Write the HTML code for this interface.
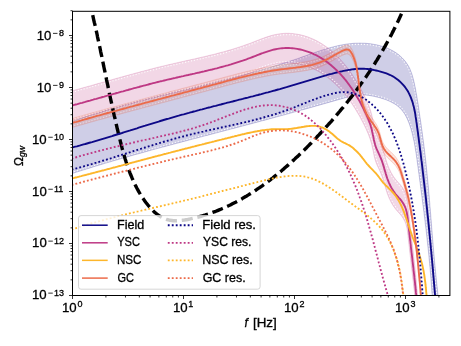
<!DOCTYPE html>
<html><head><meta charset="utf-8"><style>
html,body{margin:0;padding:0;background:#fff;}
svg{display:block;will-change:transform;}
text{stroke:#000;stroke-width:0.3px;}
</style></head><body>
<svg width="461" height="346" viewBox="0 0 461 346">
<defs><clipPath id="ax"><rect x="72.5" y="11.3" width="377.40" height="284.20"/></clipPath></defs>
<rect x="0" y="0" width="461" height="346" fill="#fff"/>
<g clip-path="url(#ax)">
<path d="M60.1 126.0L62.0 125.3L63.9 124.6L65.8 123.8L67.7 123.1L69.6 122.4L71.5 121.7L73.5 121.0L75.4 120.4L77.3 119.7L79.2 119.0L81.1 118.4L83.0 117.7L84.9 117.1L86.9 116.4L88.8 115.8L90.7 115.2L92.6 114.5L94.6 113.9L96.5 113.3L98.4 112.7L100.4 112.1L102.3 111.5L104.2 110.9L106.2 110.3L108.1 109.7L110.0 109.2L112.0 108.6L113.9 108.0L115.9 107.5L117.8 106.9L119.7 106.4L121.7 105.8L123.6 105.3L125.6 104.7L127.5 104.2L129.5 103.7L131.4 103.1L133.4 102.6L135.3 102.1L137.3 101.6L139.2 101.0L141.2 100.5L143.1 100.0L145.1 99.5L147.1 99.0L149.0 98.5L151.0 98.0L152.9 97.5L154.9 97.0L156.9 96.5L158.8 96.0L160.8 95.5L162.7 95.0L164.7 94.5L166.7 94.1L168.6 93.6L170.6 93.1L172.6 92.6L174.5 92.1L176.5 91.6L178.4 91.2L180.4 90.7L182.4 90.2L184.3 89.7L186.3 89.2L188.3 88.8L190.2 88.3L192.2 87.8L194.2 87.3L196.1 86.9L198.1 86.4L200.0 85.9L202.0 85.4L204.0 84.9L205.9 84.5L207.9 84.0L209.9 83.5L211.8 83.0L213.8 82.5L215.7 82.0L217.7 81.5L219.7 81.0L221.6 80.6L223.6 80.1L225.6 79.6L227.5 79.1L229.5 78.6L231.4 78.1L233.4 77.6L235.3 77.0L237.3 76.5L239.2 76.0L241.2 75.5L243.2 75.0L245.1 74.5L247.1 73.9L249.0 73.4L251.0 72.9L252.9 72.3L254.9 71.8L256.8 71.2L258.7 70.7L260.7 70.1L262.6 69.6L264.6 69.0L266.5 68.4L268.4 67.9L270.4 67.3L272.3 66.7L274.3 66.1L276.2 65.5L278.1 64.9L280.1 64.3L282.0 63.7L283.9 63.1L285.8 62.5L287.8 61.9L289.7 61.2L291.6 60.6L293.5 60.0L295.5 59.3L297.4 58.7L299.3 58.0L301.2 57.3L303.1 56.6L305.0 56.0L306.9 55.3L308.8 54.6L310.7 53.9L312.7 53.3L314.6 52.6L316.5 51.9L318.4 51.3L320.3 50.7L322.2 50.0L324.2 49.4L326.1 48.8L328.0 48.2L330.0 47.7L331.9 47.2L333.9 46.7L335.8 46.2L337.8 45.7L339.7 45.3L341.7 44.9L343.7 44.6L345.7 44.2L347.7 43.9L349.7 43.7L351.7 43.5L353.7 43.3L355.7 43.2L357.8 43.2L359.8 43.1L361.9 43.2L363.9 43.2L366.0 43.3L368.0 43.5L370.1 43.7L372.1 44.0L374.1 44.4L376.1 44.7L378.1 45.2L380.0 45.7L381.9 46.2L383.8 46.8L385.7 47.5L387.5 48.2L389.3 49.0L391.1 49.9L392.8 50.8L394.5 51.8L396.1 52.8L397.6 53.9L399.2 55.1L400.6 56.4L402.0 57.7L403.3 59.1L404.6 60.5L405.8 62.0L406.9 63.6L408.0 65.3L409.0 67.0L409.9 68.9L410.7 70.8L411.4 72.7L412.1 74.7L412.7 76.8L413.3 78.9L413.8 81.0L414.3 83.1L414.7 85.2L415.2 87.3L415.6 89.3L415.9 91.4L416.3 93.4L416.7 95.4L417.0 97.4L417.3 99.4L417.6 101.4L418.0 103.3L418.3 105.3L418.6 107.3L418.8 109.2L419.1 111.2L419.4 113.2L419.7 115.1L420.0 117.1L420.3 119.1L420.6 121.1L420.9 123.0L421.2 125.0L421.4 127.0L421.7 129.0L422.0 131.0L422.3 133.0L422.5 135.0L422.8 137.0L423.1 139.0L423.3 141.0L423.6 143.0L423.9 145.0L424.1 147.0L424.4 149.0L424.6 151.0L424.8 153.0L425.1 155.0L425.3 157.1L425.5 159.1L425.8 161.1L426.0 163.1L426.2 165.1L426.4 167.1L426.6 169.1L426.8 171.1L427.0 173.1L427.2 175.2L427.4 177.2L427.6 179.2L427.8 181.2L428.0 183.2L428.2 185.2L428.4 187.2L428.6 189.3L428.7 191.3L428.9 193.3L429.1 195.3L429.3 197.3L429.4 199.3L429.6 201.3L429.8 203.4L429.9 205.4L430.1 207.4L430.3 209.4L430.4 211.4L430.6 213.4L430.8 215.5L430.9 217.5L431.1 219.5L431.3 221.5L431.4 223.5L431.6 225.5L431.7 227.5L431.9 229.6L432.1 231.6L432.2 233.6L432.4 235.6L432.6 237.6L432.7 239.6L432.9 241.7L433.1 243.7L433.2 245.7L433.4 247.7L433.6 249.7L433.7 251.7L433.9 253.7L434.1 255.8L434.3 257.8L434.5 259.8L434.6 261.8L434.8 263.8L435.0 265.8L435.2 267.8L435.4 269.8L435.6 271.9L435.8 273.9L436.0 275.9L436.2 277.9L436.4 279.9L436.6 281.9L436.8 283.9L437.0 285.9L437.3 287.9L437.5 289.9L437.7 292.0L437.9 294.0L438.2 296.0L438.4 298.0L438.7 300.0L432.4 300.0L432.3 298.2L432.2 296.3L432.1 294.5L431.9 292.7L431.8 290.8L431.7 289.0L431.6 287.1L431.4 285.3L431.3 283.5L431.1 281.6L431.0 279.8L430.9 277.9L430.7 276.1L430.6 274.3L430.4 272.4L430.2 270.6L430.1 268.8L429.9 266.9L429.7 265.1L429.6 263.3L429.4 261.4L429.2 259.6L429.0 257.8L428.9 255.9L428.7 254.1L428.5 252.3L428.3 250.4L428.1 248.6L427.9 246.8L427.7 245.0L427.5 243.1L427.3 241.3L427.1 239.5L426.9 237.6L426.7 235.8L426.5 234.0L426.3 232.2L426.1 230.3L425.9 228.5L425.7 226.7L425.4 224.8L425.2 223.0L425.0 221.2L424.8 219.4L424.6 217.5L424.3 215.7L424.1 213.9L423.9 212.1L423.6 210.2L423.4 208.4L423.2 206.6L422.9 204.8L422.7 202.9L422.5 201.1L422.2 199.3L422.0 197.5L421.8 195.6L421.5 193.8L421.3 192.0L421.0 190.2L420.8 188.3L420.6 186.5L420.3 184.7L420.1 182.9L419.8 181.0L419.6 179.2L419.4 177.4L419.1 175.5L418.9 173.7L418.6 171.9L418.4 170.1L418.1 168.2L417.9 166.4L417.6 164.6L417.4 162.8L417.1 160.9L416.9 159.1L416.6 157.3L416.4 155.5L416.1 153.6L415.8 151.8L415.5 150.0L415.2 148.2L414.9 146.3L414.6 144.5L414.3 142.7L413.9 140.9L413.5 139.1L413.1 137.3L412.7 135.5L412.3 133.7L411.8 131.9L411.3 130.1L410.8 128.3L410.2 126.6L409.6 124.8L409.0 123.1L408.3 121.4L407.6 119.7L406.8 118.0L406.0 116.4L405.1 114.8L404.2 113.3L403.2 111.9L402.1 110.5L400.9 109.1L399.7 107.9L398.4 106.7L397.0 105.6L395.5 104.5L393.9 103.6L392.3 102.7L390.7 101.8L389.0 101.0L387.2 100.3L385.5 99.6L383.7 99.0L381.8 98.4L380.0 97.8L378.1 97.3L376.2 96.9L374.4 96.4L372.5 96.1L370.6 95.7L368.8 95.4L367.0 95.2L365.1 95.0L363.3 94.9L361.5 95.0L359.7 95.0L357.9 95.2L356.1 95.4L354.3 95.7L352.5 96.0L350.8 96.4L349.0 96.8L347.2 97.2L345.5 97.7L343.7 98.2L342.0 98.7L340.2 99.2L338.5 99.7L336.7 100.2L334.9 100.7L333.2 101.2L331.4 101.7L329.7 102.2L327.9 102.7L326.1 103.2L324.4 103.7L322.6 104.2L320.8 104.7L319.1 105.2L317.3 105.7L315.5 106.2L313.8 106.7L312.0 107.2L310.2 107.7L308.4 108.2L306.7 108.7L304.9 109.2L303.1 109.7L301.3 110.1L299.6 110.6L297.8 111.1L296.0 111.6L294.2 112.1L292.5 112.6L290.7 113.1L288.9 113.6L287.1 114.1L285.3 114.6L283.6 115.1L281.8 115.5L280.0 116.0L278.2 116.5L276.4 117.0L274.7 117.5L272.9 118.0L271.1 118.4L269.3 118.9L267.5 119.4L265.8 119.9L264.0 120.4L262.2 120.8L260.4 121.3L258.6 121.8L256.9 122.3L255.1 122.7L253.3 123.2L251.5 123.7L249.7 124.2L248.0 124.6L246.2 125.1L244.4 125.6L242.6 126.0L240.8 126.5L239.1 127.0L237.3 127.4L235.5 127.9L233.7 128.4L231.9 128.8L230.1 129.3L228.4 129.8L226.6 130.2L224.8 130.7L223.0 131.2L221.2 131.6L219.5 132.1L217.7 132.6L215.9 133.0L214.1 133.5L212.3 134.0L210.6 134.4L208.8 134.9L207.0 135.4L205.2 135.8L203.4 136.3L201.7 136.8L199.9 137.2L198.1 137.7L196.3 138.2L194.5 138.6L192.8 139.1L191.0 139.6L189.2 140.0L187.4 140.5L185.7 141.0L183.9 141.4L182.1 141.9L180.3 142.4L178.5 142.9L176.8 143.3L175.0 143.8L173.2 144.3L171.4 144.8L169.7 145.2L167.9 145.7L166.1 146.2L164.3 146.7L162.5 147.1L160.8 147.6L159.0 148.1L157.2 148.6L155.4 149.1L153.7 149.5L151.9 150.0L150.1 150.5L148.3 151.0L146.6 151.5L144.8 152.0L143.0 152.5L141.3 153.0L139.5 153.5L137.7 154.0L135.9 154.4L134.2 154.9L132.4 155.4L130.6 155.9L128.9 156.4L127.1 157.0L125.3 157.5L123.5 158.0L121.8 158.5L120.0 159.0L118.2 159.5L116.5 160.0L114.7 160.5L112.9 161.0L111.2 161.6L109.4 162.1L107.6 162.6L105.9 163.1L104.1 163.6L102.3 164.2L100.6 164.7L98.8 165.2L97.0 165.8L95.3 166.3L93.5 166.8L91.8 167.4L90.0 167.9L88.2 168.5L86.5 169.0L84.7 169.6L83.0 170.1L81.2 170.7L79.4 171.2L77.7 171.8L75.9 172.3L74.2 172.9L72.4 173.5L70.6 174.0L68.9 174.6L67.1 175.2L65.4 175.7L63.6 176.3L61.9 176.9L60.1 177.5 Z" fill="#0d0887" fill-opacity="0.2" stroke="#0d0887" stroke-opacity="0.2" stroke-width="1"/>
<path d="M60.6 127.1L62.5 126.4L64.4 125.7L66.3 125.0L68.2 124.3L70.1 123.6L72.0 122.9L73.9 122.2L75.8 121.5L77.7 120.8L79.6 120.2L81.5 119.5L83.4 118.8L85.3 118.2L87.2 117.6L89.2 116.9L91.1 116.3L93.0 115.7L94.9 115.1L96.9 114.4L98.8 113.8L100.7 113.2L102.6 112.6L104.6 112.1L106.5 111.5L108.4 110.9L110.4 110.3L112.3 109.7L114.2 109.2L116.2 108.6L118.1 108.1L120.1 107.5L122.0 107.0L124.0 106.4L125.9 105.9L127.8 105.3L129.8 104.8L131.7 104.3L133.7 103.8L135.6 103.2L137.6 102.7L139.5 102.2L141.5 101.7L143.5 101.2L145.4 100.7L147.4 100.2L149.3 99.7L151.3 99.2L153.2 98.7L155.2 98.2L157.1 97.7L159.1 97.2L161.1 96.7L163.0 96.2L165.0 95.7L167.0 95.2L168.9 94.7L170.9 94.3L172.8 93.8L174.8 93.3L176.8 92.8L178.7 92.3L180.7 91.8L182.7 91.4L184.6 90.9L186.6 90.4L188.5 89.9L190.5 89.5L192.5 89.0L194.4 88.5L196.4 88.0L198.4 87.5L200.3 87.1L202.3 86.6L204.3 86.1L206.2 85.6L208.2 85.1L210.2 84.7L212.1 84.2L214.1 83.7L216.0 83.2L218.0 82.7L220.0 82.2L221.9 81.7L223.9 81.2L225.8 80.7L227.8 80.2L229.8 79.7L231.7 79.2L233.7 78.7L235.6 78.2L237.6 77.7L239.6 77.2L241.5 76.7L243.5 76.1L245.4 75.6L247.4 75.1L249.3 74.6L251.3 74.0L253.2 73.5L255.2 72.9L257.1 72.4L259.1 71.8L261.0 71.3L263.0 70.7L264.9 70.2L266.8 69.6L268.8 69.0L270.7 68.4L272.7 67.9L274.6 67.3L276.5 66.7L278.5 66.1L280.4 65.5L282.3 64.9L284.3 64.3L286.2 63.6L288.1 63.0L290.1 62.4L292.0 61.7L293.9 61.1L295.8 60.4L297.8 59.8L299.7 59.1L301.6 58.5L303.5 57.8L305.4 57.1L307.3 56.4L309.2 55.7L311.1 55.1L313.1 54.4L315.0 53.7L316.9 53.1L318.8 52.4L320.7 51.8L322.6 51.2L324.5 50.6L326.4 50.0L328.4 49.4L330.3 48.9L332.2 48.3L334.1 47.8L336.1 47.3L338.0 46.9L340.0 46.5L341.9 46.1L343.9 45.7L345.8 45.4L347.8 45.1L349.8 44.9L351.8 44.7L353.8 44.5L355.8 44.4L357.8 44.4L359.8 44.3L361.9 44.4L363.9 44.4L365.9 44.5L367.9 44.7L369.9 44.9L371.9 45.2L373.9 45.5L375.8 45.9L377.8 46.3L379.7 46.8L381.6 47.4L383.4 48.0L385.3 48.6L387.1 49.3L388.8 50.1L390.5 51.0L392.2 51.8L393.8 52.8L395.4 53.8L396.9 54.9L398.4 56.0L399.8 57.3L401.2 58.5L402.5 59.9L403.7 61.3L404.8 62.8L405.9 64.3L407.0 65.9L407.9 67.6L408.8 69.4L409.6 71.2L410.3 73.1L411.0 75.1L411.6 77.1L412.1 79.2L412.6 81.2L413.1 83.3L413.6 85.4L414.0 87.5L414.4 89.6L414.8 91.6L415.1 93.6L415.5 95.6L415.8 97.6L416.1 99.6L416.5 101.6L416.8 103.5L417.1 105.5L417.4 107.4L417.7 109.4L418.0 111.4L418.2 113.3L418.5 115.3L418.8 117.3L419.1 119.3L419.4 121.2L419.7 123.2L420.0 125.2L420.3 127.2L420.5 129.2L420.8 131.2L421.1 133.2L421.4 135.2L421.6 137.2L421.9 139.2L422.2 141.2L422.4 143.2L422.7 145.2L422.9 147.2L423.2 149.2L423.4 151.2L423.7 153.2L423.9 155.2L424.1 157.2L424.3 159.2L424.6 161.2L424.8 163.2L425.0 165.2L425.2 167.2L425.4 169.2L425.6 171.3L425.8 173.3L426.0 175.3L426.2 177.3L426.4 179.3L426.6 181.3L426.8 183.3L427.0 185.3L427.2 187.3L427.4 189.4L427.5 191.4L427.7 193.4L427.9 195.4L428.1 197.4L428.2 199.4L428.4 201.4L428.6 203.5L428.7 205.5L428.9 207.5L429.1 209.5L429.2 211.5L429.4 213.5L429.6 215.5L429.7 217.6L429.9 219.6L430.1 221.6L430.2 223.6L430.4 225.6L430.5 227.6L430.7 229.7L430.9 231.7L431.0 233.7L431.2 235.7L431.4 237.7L431.5 239.7L431.7 241.8L431.9 243.8L432.0 245.8L432.2 247.8L432.4 249.8L432.5 251.8L432.7 253.8L432.9 255.9L433.1 257.9L433.3 259.9L433.4 261.9L433.6 263.9L433.8 265.9L434.0 267.9L434.2 270.0L434.4 272.0L434.6 274.0L434.8 276.0L435.0 278.0L435.2 280.0L435.4 282.0L435.6 284.0L435.8 286.1L436.1 288.1L436.3 290.1L436.5 292.1L436.8 294.1L437.0 296.1L437.2 298.1L437.5 300.1" fill="none" stroke="#fff" stroke-opacity="0.9" stroke-width="1.1" stroke-dasharray="1.2 1.8"/>
<path d="M59.7 176.4L61.5 175.8L63.3 175.2L65.0 174.6L66.8 174.0L68.5 173.5L70.3 172.9L72.0 172.3L73.8 171.8L75.6 171.2L77.3 170.6L79.1 170.1L80.8 169.5L82.6 169.0L84.4 168.4L86.1 167.9L87.9 167.3L89.6 166.8L91.4 166.2L93.2 165.7L94.9 165.2L96.7 164.6L98.5 164.1L100.2 163.5L102.0 163.0L103.8 162.5L105.5 162.0L107.3 161.4L109.1 160.9L110.8 160.4L112.6 159.9L114.4 159.4L116.1 158.8L117.9 158.3L119.7 157.8L121.4 157.3L123.2 156.8L125.0 156.3L126.8 155.8L128.5 155.3L130.3 154.8L132.1 154.3L133.8 153.8L135.6 153.3L137.4 152.8L139.2 152.3L140.9 151.8L142.7 151.3L144.5 150.8L146.3 150.3L148.0 149.8L149.8 149.4L151.6 148.9L153.4 148.4L155.1 147.9L156.9 147.4L158.7 146.9L160.5 146.5L162.2 146.0L164.0 145.5L165.8 145.0L167.6 144.5L169.3 144.1L171.1 143.6L172.9 143.1L174.7 142.6L176.5 142.2L178.2 141.7L180.0 141.2L181.8 140.8L183.6 140.3L185.3 139.8L187.1 139.3L188.9 138.9L190.7 138.4L192.5 137.9L194.2 137.5L196.0 137.0L197.8 136.5L199.6 136.1L201.4 135.6L203.1 135.1L204.9 134.7L206.7 134.2L208.5 133.7L210.3 133.3L212.0 132.8L213.8 132.3L215.6 131.9L217.4 131.4L219.2 130.9L220.9 130.5L222.7 130.0L224.5 129.5L226.3 129.1L228.1 128.6L229.8 128.1L231.6 127.7L233.4 127.2L235.2 126.7L237.0 126.3L238.7 125.8L240.5 125.3L242.3 124.9L244.1 124.4L245.9 123.9L247.7 123.5L249.4 123.0L251.2 122.5L253.0 122.0L254.8 121.6L256.6 121.1L258.3 120.6L260.1 120.2L261.9 119.7L263.7 119.2L265.5 118.7L267.2 118.2L269.0 117.8L270.8 117.3L272.6 116.8L274.4 116.3L276.1 115.8L277.9 115.4L279.7 114.9L281.5 114.4L283.3 113.9L285.0 113.4L286.8 112.9L288.6 112.4L290.4 111.9L292.1 111.5L293.9 111.0L295.7 110.5L297.5 110.0L299.2 109.5L301.0 109.0L302.8 108.5L304.6 108.0L306.3 107.5L308.1 107.0L309.9 106.5L311.7 106.0L313.4 105.5L315.2 105.0L317.0 104.5L318.7 104.0L320.5 103.5L322.3 103.0L324.0 102.5L325.8 102.0L327.6 101.5L329.3 101.0L331.1 100.5L332.8 100.0L334.6 99.5L336.4 99.0L338.1 98.5L339.9 98.0L341.6 97.5L343.4 97.0L345.2 96.5L346.9 96.1L348.7 95.6L350.5 95.2L352.3 94.8L354.1 94.5L355.9 94.2L357.8 94.0L359.6 93.8L361.4 93.8L363.3 93.8L365.2 93.8L367.1 94.0L369.0 94.2L370.9 94.5L372.7 94.9L374.6 95.3L376.5 95.7L378.4 96.2L380.3 96.7L382.2 97.2L384.0 97.8L385.9 98.5L387.7 99.2L389.5 99.9L391.2 100.7L392.9 101.6L394.6 102.5L396.2 103.5L397.7 104.6L399.1 105.8L400.5 107.0L401.8 108.3L403.0 109.7L404.1 111.2L405.2 112.7L406.2 114.2L407.1 115.8L407.9 117.5L408.7 119.2L409.4 120.9L410.1 122.7L410.8 124.4L411.4 126.2L411.9 128.0L412.4 129.8L412.9 131.6L413.4 133.4L413.9 135.2L414.3 137.0L414.7 138.9L415.1 140.7L415.4 142.5L415.8 144.3L416.1 146.1L416.4 148.0L416.7 149.8L417.0 151.6L417.3 153.5L417.6 155.3L417.8 157.1L418.1 158.9L418.3 160.8L418.6 162.6L418.8 164.4L419.1 166.3L419.3 168.1L419.6 169.9L419.8 171.7L420.1 173.6L420.3 175.4L420.5 177.2L420.8 179.0L421.0 180.9L421.3 182.7L421.5 184.5L421.8 186.3L422.0 188.2L422.2 190.0L422.5 191.8L422.7 193.6L423.0 195.5L423.2 197.3L423.4 199.1L423.7 201.0L423.9 202.8L424.1 204.6L424.4 206.4L424.6 208.3L424.8 210.1L425.1 211.9L425.3 213.7L425.5 215.6L425.7 217.4L426.0 219.2L426.2 221.0L426.4 222.9L426.6 224.7L426.8 226.5L427.1 228.4L427.3 230.2L427.5 232.0L427.7 233.8L427.9 235.7L428.1 237.5L428.3 239.3L428.5 241.2L428.7 243.0L428.9 244.8L429.1 246.7L429.3 248.5L429.5 250.3L429.7 252.1L429.9 254.0L430.1 255.8L430.2 257.6L430.4 259.5L430.6 261.3L430.8 263.1L430.9 265.0L431.1 266.8L431.3 268.7L431.4 270.5L431.6 272.3L431.8 274.2L431.9 276.0L432.1 277.8L432.2 279.7L432.3 281.5L432.5 283.4L432.6 285.2L432.8 287.0L432.9 288.9L433.0 290.7L433.1 292.6L433.3 294.4L433.4 296.3L433.5 298.1L433.6 300.0" fill="none" stroke="#fff" stroke-opacity="0.9" stroke-width="1.1" stroke-dasharray="1.2 1.8"/>
<path d="M60.0 94.0L61.6 93.6L63.2 93.2L64.8 92.8L66.3 92.4L67.9 91.9L69.5 91.5L71.1 91.1L72.7 90.7L74.2 90.2L75.8 89.8L77.4 89.4L79.0 88.9L80.5 88.5L82.1 88.1L83.7 87.6L85.3 87.2L86.9 86.7L88.4 86.3L90.0 85.9L91.6 85.4L93.2 85.0L94.7 84.5L96.3 84.1L97.9 83.6L99.5 83.2L101.0 82.8L102.6 82.3L104.2 81.9L105.8 81.4L107.3 81.0L108.9 80.5L110.5 80.1L112.0 79.7L113.6 79.2L115.2 78.8L116.8 78.3L118.3 77.9L119.9 77.4L121.5 77.0L123.1 76.6L124.7 76.1L126.2 75.7L127.8 75.3L129.4 74.8L131.0 74.4L132.5 74.0L134.1 73.5L135.7 73.1L137.3 72.7L138.9 72.3L140.4 71.8L142.0 71.4L143.6 71.0L145.2 70.6L146.8 70.2L148.3 69.8L149.9 69.3L151.5 68.9L153.1 68.5L154.7 68.1L156.3 67.7L157.8 67.3L159.4 66.9L161.0 66.5L162.6 66.2L164.2 65.8L165.8 65.4L167.4 65.0L169.0 64.6L170.6 64.3L172.2 63.9L173.8 63.5L175.4 63.2L177.0 62.8L178.6 62.4L180.1 62.1L181.7 61.7L183.3 61.4L184.9 61.0L186.5 60.6L188.1 60.3L189.7 59.9L191.3 59.6L192.9 59.2L194.5 58.9L196.1 58.5L197.7 58.1L199.3 57.8L200.9 57.4L202.5 57.0L204.1 56.7L205.7 56.3L207.3 55.9L208.9 55.5L210.5 55.1L212.0 54.8L213.6 54.4L215.2 54.0L216.8 53.6L218.4 53.1L220.0 52.7L221.5 52.3L223.1 51.9L224.7 51.5L226.3 51.0L227.8 50.6L229.4 50.1L231.0 49.7L232.5 49.2L234.1 48.7L235.7 48.2L237.2 47.7L238.8 47.2L240.3 46.7L241.9 46.2L243.4 45.7L245.0 45.1L246.5 44.6L248.0 44.0L249.6 43.5L251.1 42.9L252.6 42.3L254.2 41.7L255.7 41.1L257.2 40.5L258.7 39.9L260.3 39.3L261.8 38.7L263.3 38.2L264.9 37.6L266.4 37.1L267.9 36.6L269.5 36.1L271.1 35.6L272.6 35.2L274.2 34.8L275.8 34.5L277.4 34.2L279.0 33.9L280.6 33.7L282.2 33.5L283.9 33.4L285.5 33.3L287.2 33.3L288.9 33.3L290.5 33.4L292.2 33.5L293.9 33.7L295.5 33.9L297.2 34.2L298.8 34.5L300.4 34.8L302.0 35.2L303.6 35.6L305.2 36.1L306.7 36.6L308.3 37.1L309.8 37.7L311.3 38.3L312.8 38.9L314.2 39.6L315.7 40.3L317.1 41.0L318.5 41.8L319.9 42.6L321.3 43.4L322.7 44.3L324.0 45.2L325.3 46.1L326.7 47.1L328.0 48.0L329.2 49.0L330.5 50.0L331.7 51.1L333.0 52.2L334.2 53.3L335.4 54.4L336.6 55.5L337.7 56.7L338.9 57.8L340.0 59.0L341.1 60.2L342.2 61.5L343.3 62.7L344.3 64.0L345.4 65.2L346.4 66.5L347.4 67.8L348.4 69.1L349.4 70.5L350.3 71.8L351.3 73.1L352.2 74.5L353.1 75.9L354.0 77.3L354.9 78.6L355.7 80.0L356.6 81.5L357.4 82.9L358.3 84.3L359.1 85.7L359.9 87.1L360.7 88.6L361.4 90.0L362.2 91.5L362.9 92.9L363.7 94.4L364.4 95.8L365.1 97.3L365.8 98.7L366.5 100.2L367.1 101.7L367.8 103.2L368.4 104.7L369.0 106.2L369.5 107.7L370.1 109.2L370.6 110.7L371.0 112.3L371.5 113.9L371.9 115.5L372.2 117.1L372.6 118.7L372.9 120.3L373.3 121.9L373.6 123.5L373.9 125.2L374.3 126.8L374.7 128.4L375.1 129.9L375.6 131.5L376.1 133.0L376.7 134.5L377.4 136.0L378.1 137.5L378.8 139.0L379.5 140.4L380.1 141.9L380.8 143.4L381.4 144.9L382.0 146.5L382.5 148.0L383.0 149.6L383.5 151.2L384.0 152.8L384.4 154.4L384.9 156.0L385.4 157.5L385.8 159.1L386.3 160.7L386.8 162.3L387.3 163.8L387.9 165.4L388.5 166.9L389.1 168.4L389.8 169.8L390.5 171.3L391.2 172.7L392.0 174.1L392.8 175.4L393.6 176.7L394.6 178.0L395.5 179.3L396.5 180.5L397.6 181.7L398.6 182.9L399.7 184.0L400.7 185.2L401.7 186.5L402.6 187.8L403.4 189.1L404.2 190.5L404.9 191.9L405.5 193.3L406.0 194.8L406.4 196.4L406.8 197.9L407.1 199.6L407.4 201.2L407.6 202.8L407.8 204.5L408.0 206.1L408.1 207.8L408.3 209.5L408.5 211.1L408.7 212.8L408.9 214.4L409.1 216.1L409.3 217.7L409.4 219.3L409.6 221.0L409.8 222.6L410.0 224.3L410.2 225.9L410.4 227.5L410.6 229.1L410.8 230.8L410.9 232.4L411.1 234.0L411.3 235.7L411.5 237.3L411.7 238.9L411.9 240.5L412.1 242.1L412.3 243.8L412.4 245.4L412.6 247.0L412.8 248.6L413.0 250.2L413.2 251.9L413.4 253.5L413.5 255.1L413.7 256.7L413.9 258.3L414.1 259.9L414.3 261.5L414.4 263.2L414.6 264.8L414.8 266.4L415.0 268.0L415.1 269.6L415.3 271.2L415.5 272.9L415.6 274.5L415.8 276.1L415.9 277.7L416.1 279.3L416.3 280.9L416.4 282.6L416.6 284.2L416.7 285.8L416.9 287.4L417.0 289.1L417.2 290.7L417.3 292.3L417.4 294.0L417.6 295.6L417.7 297.2L417.8 298.9L418.0 300.5L418.1 302.1L418.2 303.8L418.3 305.4L418.4 307.1L418.5 308.7L418.7 310.4L418.8 312.0L418.9 313.7L419.0 315.3L419.0 345.0L418.9 343.4L418.8 341.7L418.7 340.1L418.5 338.4L418.4 336.8L418.3 335.1L418.2 333.5L418.1 331.8L418.0 330.2L417.8 328.6L417.7 326.9L417.6 325.3L417.4 323.7L417.3 322.0L417.2 320.4L417.0 318.8L416.9 317.1L416.7 315.5L416.6 313.9L416.4 312.3L416.3 310.6L416.1 309.0L415.9 307.4L415.8 305.8L415.6 304.2L415.5 302.6L415.3 300.9L415.1 299.3L415.0 297.7L414.8 296.1L414.6 294.5L414.4 292.9L414.3 291.2L414.1 289.6L413.9 288.0L413.7 286.4L413.5 284.8L413.4 283.2L413.2 281.6L413.0 279.9L412.8 278.3L412.6 276.7L412.4 275.1L412.3 273.5L412.1 271.8L411.9 270.2L411.7 268.6L411.5 267.0L411.3 265.4L411.1 263.7L410.9 262.1L410.8 260.5L410.6 258.8L410.4 257.2L410.2 255.6L410.0 254.0L409.8 252.3L409.6 250.7L409.4 249.0L409.3 247.4L409.1 245.8L408.9 244.1L408.7 242.5L408.5 240.8L408.3 239.2L408.1 237.5L408.0 235.8L407.8 234.2L407.6 232.5L407.4 230.9L407.1 229.3L406.8 227.6L406.4 226.1L406.0 224.5L405.5 223.0L404.9 221.6L404.2 220.2L403.4 218.8L402.6 217.5L401.7 216.2L400.7 214.9L399.7 213.7L398.6 212.6L397.6 211.4L396.5 210.2L395.5 209.0L394.6 207.7L393.6 206.4L392.8 205.1L392.0 203.8L391.2 202.4L390.5 201.0L389.8 199.5L389.1 198.1L388.5 196.6L387.9 195.1L387.3 193.5L386.8 192.0L386.3 190.4L385.8 188.8L385.4 187.2L384.9 185.7L384.4 184.1L384.0 182.5L383.5 180.9L383.0 179.3L382.5 177.7L382.0 176.2L381.4 174.6L380.8 173.1L380.1 171.6L379.5 170.1L378.8 168.7L378.1 167.2L377.4 165.7L376.7 164.2L376.1 162.7L375.6 161.2L375.1 159.6L374.7 158.1L374.3 156.5L373.9 154.9L373.6 153.2L373.3 151.6L372.9 150.0L372.6 148.4L372.2 146.8L371.9 145.2L371.5 143.6L371.0 142.0L370.6 140.4L370.1 138.9L369.5 137.4L369.0 135.9L368.4 134.4L367.8 132.9L367.1 131.4L366.5 129.9L365.8 128.4L365.1 127.0L364.4 125.5L363.7 124.1L362.9 122.6L362.2 121.2L361.4 119.7L360.7 118.3L359.9 116.8L359.1 115.4L358.3 114.0L357.4 112.6L356.6 111.2L355.7 109.7L354.9 108.3L354.0 107.0L353.1 105.6L352.2 104.2L351.3 102.8L350.3 101.5L349.4 100.2L348.4 98.8L347.4 97.5L346.4 96.2L345.4 94.9L344.3 93.7L343.3 92.4L342.2 91.2L341.1 89.9L340.0 88.7L338.9 87.5L337.7 86.4L336.6 85.2L335.4 84.1L334.2 83.0L333.0 81.9L331.7 80.8L330.5 79.7L329.2 78.7L328.0 77.7L326.7 76.8L325.3 75.8L324.0 74.9L322.7 74.0L321.3 73.1L319.9 72.3L318.5 71.5L317.1 70.7L315.7 70.0L314.2 69.3L312.8 68.6L311.3 68.0L309.8 67.4L308.3 66.8L306.7 66.3L305.2 65.8L303.6 65.3L302.0 64.9L300.4 64.5L298.8 64.2L297.2 63.9L295.5 63.6L293.9 63.4L292.2 63.2L290.5 63.1L288.9 63.0L287.2 63.0L285.5 63.0L283.9 63.1L282.2 63.2L280.6 63.4L279.0 63.6L277.4 63.9L275.8 64.2L274.2 64.5L272.6 64.9L271.1 65.3L269.5 65.8L267.9 66.3L266.4 66.8L264.9 67.3L263.3 67.9L261.8 68.4L260.3 69.0L258.7 69.6L257.2 70.2L255.7 70.8L254.2 71.4L252.6 72.0L251.1 72.6L249.6 73.2L248.0 73.7L246.5 74.3L245.0 74.8L243.4 75.4L241.9 75.9L240.3 76.4L238.8 76.9L237.2 77.4L235.7 77.9L234.1 78.4L232.5 78.9L231.0 79.4L229.4 79.8L227.8 80.3L226.3 80.7L224.7 81.2L223.1 81.6L221.5 82.0L220.0 82.4L218.4 82.8L216.8 83.3L215.2 83.7L213.6 84.1L212.0 84.5L210.5 84.8L208.9 85.2L207.3 85.6L205.7 86.0L204.1 86.4L202.5 86.7L200.9 87.1L199.3 87.5L197.7 87.8L196.1 88.2L194.5 88.6L192.9 88.9L191.3 89.3L189.7 89.6L188.1 90.0L186.5 90.3L184.9 90.7L183.3 91.1L181.7 91.4L180.1 91.8L178.6 92.1L177.0 92.5L175.4 92.9L173.8 93.2L172.2 93.6L170.6 94.0L169.0 94.3L167.4 94.7L165.8 95.1L164.2 95.5L162.6 95.9L161.0 96.2L159.4 96.6L157.8 97.0L156.3 97.4L154.7 97.8L153.1 98.2L151.5 98.6L149.9 99.0L148.3 99.5L146.8 99.9L145.2 100.3L143.6 100.7L142.0 101.1L140.4 101.5L138.9 102.0L137.3 102.4L135.7 102.8L134.1 103.2L132.5 103.7L131.0 104.1L129.4 104.5L127.8 105.0L126.2 105.4L124.7 105.8L123.1 106.3L121.5 106.7L119.9 107.1L118.3 107.6L116.8 108.0L115.2 108.5L113.6 108.9L112.0 109.4L110.5 109.8L108.9 110.2L107.3 110.7L105.8 111.1L104.2 111.6L102.6 112.0L101.0 112.5L99.5 112.9L97.9 113.3L96.3 113.8L94.7 114.2L93.2 114.7L91.6 115.1L90.0 115.6L88.4 116.0L86.9 116.4L85.3 116.9L83.7 117.3L82.1 117.8L80.5 118.2L79.0 118.6L77.4 119.1L75.8 119.5L74.2 119.9L72.7 120.4L71.1 120.8L69.5 121.2L67.9 121.6L66.3 122.1L64.8 122.5L63.2 122.9L61.6 123.3L60.0 123.7 Z" fill="#be3884" fill-opacity="0.2" stroke="#be3884" stroke-opacity="0.2" stroke-width="1"/>
<path d="M60.4 95.4L61.9 95.0L63.5 94.6L65.1 94.1L66.7 93.7L68.3 93.3L69.9 92.9L71.4 92.4L73.0 92.0L74.6 91.6L76.2 91.2L77.8 90.7L79.3 90.3L80.9 89.8L82.5 89.4L84.1 89.0L85.7 88.5L87.2 88.1L88.8 87.7L90.4 87.2L92.0 86.8L93.5 86.3L95.1 85.9L96.7 85.4L98.3 85.0L99.8 84.6L101.4 84.1L103.0 83.7L104.6 83.2L106.1 82.8L107.7 82.3L109.3 81.9L110.9 81.4L112.4 81.0L114.0 80.6L115.6 80.1L117.2 79.7L118.7 79.2L120.3 78.8L121.9 78.4L123.4 77.9L125.0 77.5L126.6 77.0L128.2 76.6L129.8 76.2L131.3 75.7L132.9 75.3L134.5 74.9L136.1 74.5L137.6 74.0L139.2 73.6L140.8 73.2L142.4 72.8L143.9 72.3L145.5 71.9L147.1 71.5L148.7 71.1L150.3 70.7L151.9 70.3L153.4 69.9L155.0 69.5L156.6 69.1L158.2 68.7L159.8 68.3L161.4 67.9L162.9 67.5L164.5 67.1L166.1 66.7L167.7 66.4L169.3 66.0L170.9 65.6L172.5 65.3L174.1 64.9L175.7 64.5L177.3 64.2L178.9 63.8L180.5 63.4L182.1 63.1L183.6 62.7L185.2 62.4L186.8 62.0L188.4 61.7L190.0 61.3L191.6 60.9L193.2 60.6L194.8 60.2L196.4 59.9L198.0 59.5L199.6 59.1L201.2 58.8L202.8 58.4L204.4 58.0L206.0 57.6L207.6 57.3L209.2 56.9L210.8 56.5L212.4 56.1L214.0 55.7L215.6 55.3L217.2 54.9L218.7 54.5L220.3 54.1L221.9 53.7L223.5 53.2L225.1 52.8L226.6 52.4L228.2 51.9L229.8 51.5L231.4 51.0L232.9 50.5L234.5 50.1L236.1 49.6L237.6 49.1L239.2 48.6L240.8 48.1L242.3 47.5L243.9 47.0L245.4 46.5L247.0 45.9L248.5 45.3L250.1 44.8L251.6 44.2L253.1 43.6L254.7 43.0L256.2 42.4L257.7 41.8L259.2 41.2L260.8 40.6L262.3 40.0L263.8 39.5L265.3 38.9L266.8 38.4L268.4 37.9L269.9 37.4L271.4 37.0L273.0 36.6L274.5 36.2L276.1 35.8L277.6 35.5L279.2 35.3L280.8 35.1L282.4 34.9L284.0 34.8L285.6 34.7L287.2 34.7L288.8 34.7L290.4 34.8L292.1 34.9L293.7 35.1L295.3 35.3L296.9 35.5L298.5 35.8L300.1 36.2L301.7 36.5L303.2 37.0L304.8 37.4L306.3 37.9L307.8 38.4L309.3 39.0L310.7 39.6L312.2 40.2L313.6 40.9L315.0 41.6L316.5 42.3L317.8 43.0L319.2 43.8L320.6 44.6L321.9 45.5L323.2 46.4L324.5 47.3L325.8 48.2L327.1 49.1L328.4 50.1L329.6 51.1L330.8 52.2L332.0 53.2L333.2 54.3L334.4 55.4L335.6 56.5L336.7 57.6L337.8 58.8L339.0 60.0L340.1 61.2L341.1 62.4L342.2 63.6L343.2 64.9L344.3 66.1L345.3 67.4L346.3 68.7L347.3 70.0L348.2 71.3L349.2 72.6L350.1 73.9L351.0 75.3L351.9 76.6L352.8 78.0L353.7 79.4L354.6 80.8L355.4 82.2L356.2 83.6L357.1 85.0L357.9 86.4L358.7 87.8L359.4 89.2L360.2 90.7L361.0 92.1L361.7 93.5L362.4 95.0L363.2 96.4L363.9 97.9L364.5 99.3L365.2 100.8L365.9 102.2L366.5 103.7L367.1 105.2L367.7 106.7L368.2 108.1L368.7 109.7L369.2 111.2L369.7 112.7L370.1 114.2L370.5 115.8L370.9 117.4L371.2 119.0L371.6 120.6L371.9 122.2L372.2 123.8L372.6 125.5L373.0 127.1L373.4 128.7L373.8 130.3L374.3 131.9L374.8 133.5L375.4 135.1L376.1 136.6L376.8 138.1L377.5 139.6L378.2 141.0L378.9 142.5L379.5 143.9L380.1 145.4L380.6 146.9L381.2 148.5L381.7 150.0L382.2 151.6L382.6 153.2L383.1 154.8L383.5 156.3L384.0 157.9L384.5 159.5L385.0 161.1L385.5 162.7L386.0 164.3L386.6 165.8L387.2 167.4L387.8 168.9L388.5 170.4L389.2 171.9L390.0 173.3L390.8 174.8L391.6 176.2L392.5 177.5L393.4 178.9L394.4 180.2L395.5 181.4L396.5 182.6L397.6 183.8L398.7 185.0L399.6 186.1L400.6 187.3L401.4 188.6L402.2 189.8L403.0 191.1L403.6 192.5L404.2 193.8L404.7 195.3L405.1 196.7L405.4 198.2L405.7 199.8L406.0 201.4L406.2 203.0L406.4 204.6L406.6 206.3L406.8 208.0L406.9 209.6L407.1 211.3L407.3 212.9L407.5 214.6L407.7 216.2L407.9 217.9L408.0 219.5L408.2 221.1L408.4 222.8L408.6 224.4L408.8 226.0L409.0 227.7L409.2 229.3L409.4 230.9L409.6 232.6L409.7 234.2L409.9 235.8L410.1 237.4L410.3 239.1L410.5 240.7L410.7 242.3L410.9 243.9L411.1 245.5L411.2 247.2L411.4 248.8L411.6 250.4L411.8 252.0L412.0 253.6L412.2 255.2L412.3 256.9L412.5 258.5L412.7 260.1L412.9 261.7L413.0 263.3L413.2 264.9L413.4 266.5L413.6 268.2L413.7 269.8L413.9 271.4L414.1 273.0L414.2 274.6L414.4 276.2L414.5 277.8L414.7 279.5L414.9 281.1L415.0 282.7L415.2 284.3L415.3 285.9L415.5 287.6L415.6 289.2L415.8 290.8L415.9 292.4L416.0 294.1L416.2 295.7L416.3 297.3L416.4 299.0L416.6 300.6L416.7 302.2L416.8 303.9L416.9 305.5L417.0 307.2L417.1 308.8L417.3 310.5L417.4 312.1L417.5 313.8L417.6 315.4" fill="none" stroke="#fff" stroke-opacity="0.9" stroke-width="1.1" stroke-dasharray="1.2 1.8"/>
<path d="M59.7 122.4L61.2 122.0L62.8 121.6L64.4 121.1L66.0 120.7L67.6 120.3L69.1 119.9L70.7 119.4L72.3 119.0L73.9 118.6L75.4 118.1L77.0 117.7L78.6 117.3L80.2 116.8L81.8 116.4L83.3 116.0L84.9 115.5L86.5 115.1L88.1 114.7L89.6 114.2L91.2 113.8L92.8 113.3L94.4 112.9L95.9 112.4L97.5 112.0L99.1 111.6L100.6 111.1L102.2 110.7L103.8 110.2L105.4 109.8L106.9 109.3L108.5 108.9L110.1 108.4L111.7 108.0L113.2 107.6L114.8 107.1L116.4 106.7L118.0 106.2L119.5 105.8L121.1 105.4L122.7 104.9L124.3 104.5L125.9 104.0L127.4 103.6L129.0 103.2L130.6 102.7L132.2 102.3L133.7 101.9L135.3 101.5L136.9 101.0L138.5 100.6L140.1 100.2L141.7 99.8L143.2 99.3L144.8 98.9L146.4 98.5L148.0 98.1L149.6 97.7L151.2 97.3L152.7 96.9L154.3 96.5L155.9 96.1L157.5 95.7L159.1 95.3L160.7 94.9L162.3 94.5L163.9 94.1L165.5 93.7L167.1 93.3L168.7 93.0L170.3 92.6L171.9 92.2L173.4 91.9L175.0 91.5L176.6 91.1L178.2 90.8L179.8 90.4L181.4 90.0L183.0 89.7L184.6 89.3L186.2 89.0L187.8 88.6L189.4 88.3L191.0 87.9L192.6 87.5L194.2 87.2L195.8 86.8L197.4 86.5L199.0 86.1L200.6 85.7L202.2 85.4L203.8 85.0L205.4 84.6L207.0 84.2L208.5 83.9L210.1 83.5L211.7 83.1L213.3 82.7L214.9 82.3L216.5 81.9L218.0 81.5L219.6 81.1L221.2 80.7L222.8 80.2L224.3 79.8L225.9 79.4L227.5 78.9L229.0 78.5L230.6 78.0L232.1 77.6L233.7 77.1L235.2 76.6L236.8 76.1L238.3 75.6L239.9 75.1L241.4 74.6L243.0 74.1L244.5 73.5L246.0 73.0L247.6 72.4L249.1 71.9L250.6 71.3L252.1 70.7L253.6 70.1L255.2 69.5L256.7 68.9L258.2 68.3L259.8 67.7L261.3 67.1L262.8 66.6L264.4 66.0L265.9 65.5L267.5 64.9L269.1 64.5L270.7 64.0L272.3 63.6L273.9 63.2L275.5 62.8L277.1 62.5L278.8 62.2L280.4 62.0L282.1 61.8L283.8 61.7L285.5 61.6L287.2 61.6L288.9 61.6L290.6 61.7L292.3 61.8L294.0 62.0L295.7 62.2L297.4 62.5L299.1 62.8L300.7 63.1L302.4 63.5L304.0 64.0L305.6 64.4L307.2 64.9L308.7 65.5L310.3 66.1L311.8 66.7L313.3 67.3L314.8 68.0L316.3 68.7L317.8 69.5L319.2 70.3L320.6 71.1L322.0 72.0L323.4 72.8L324.8 73.7L326.2 74.7L327.5 75.6L328.8 76.6L330.1 77.6L331.4 78.7L332.7 79.7L333.9 80.8L335.1 81.9L336.3 83.0L337.5 84.2L338.7 85.4L339.9 86.6L341.0 87.8L342.1 89.0L343.2 90.2L344.3 91.5L345.4 92.8L346.4 94.1L347.5 95.4L348.5 96.7L349.5 98.0L350.5 99.3L351.5 100.7L352.4 102.1L353.3 103.4L354.3 104.8L355.2 106.2L356.1 107.6L356.9 109.0L357.8 110.4L358.6 111.9L359.5 113.3L360.3 114.7L361.1 116.2L361.9 117.6L362.7 119.1L363.4 120.5L364.2 122.0L364.9 123.4L365.7 124.9L366.4 126.4L367.1 127.8L367.8 129.3L368.4 130.8L369.1 132.3L369.7 133.8L370.3 135.4L370.8 136.9L371.4 138.5L371.9 140.0L372.4 141.6L372.8 143.2L373.2 144.8L373.6 146.5L374.0 148.1L374.3 149.7L374.6 151.3L375.0 152.9L375.3 154.5L375.7 156.1L376.1 157.7L376.5 159.2L376.9 160.8L377.5 162.3L378.0 163.7L378.7 165.2L379.3 166.6L380.0 168.1L380.7 169.5L381.4 171.0L382.1 172.6L382.7 174.1L383.3 175.7L383.8 177.3L384.3 178.9L384.8 180.5L385.3 182.1L385.8 183.7L386.2 185.3L386.7 186.9L387.2 188.4L387.6 190.0L388.1 191.5L388.7 193.1L389.2 194.6L389.8 196.0L390.4 197.5L391.0 198.9L391.7 200.3L392.4 201.7L393.2 203.1L394.0 204.4L394.8 205.7L395.7 206.9L396.6 208.1L397.6 209.3L398.6 210.5L399.7 211.6L400.8 212.8L401.8 214.1L402.8 215.4L403.8 216.7L404.6 218.1L405.4 219.5L406.2 221.0L406.8 222.5L407.3 224.1L407.8 225.7L408.2 227.4L408.5 229.0L408.8 230.7L409.0 232.4L409.2 234.0L409.4 235.7L409.5 237.3L409.7 239.0L409.9 240.7L410.1 242.3L410.3 244.0L410.5 245.6L410.6 247.2L410.8 248.9L411.0 250.5L411.2 252.2L411.4 253.8L411.6 255.4L411.8 257.1L412.0 258.7L412.1 260.3L412.3 261.9L412.5 263.6L412.7 265.2L412.9 266.8L413.1 268.4L413.3 270.1L413.5 271.7L413.6 273.3L413.8 274.9L414.0 276.5L414.2 278.2L414.4 279.8L414.6 281.4L414.8 283.0L414.9 284.6L415.1 286.2L415.3 287.9L415.5 289.5L415.6 291.1L415.8 292.7L416.0 294.3L416.2 295.9L416.3 297.6L416.5 299.2L416.7 300.8L416.8 302.4L417.0 304.0L417.2 305.6L417.3 307.3L417.5 308.9L417.7 310.5L417.8 312.1L418.0 313.8L418.1 315.4L418.3 317.0L418.4 318.6L418.5 320.3L418.7 321.9L418.8 323.5L419.0 325.2L419.1 326.8L419.2 328.4L419.4 330.1L419.5 331.7L419.6 333.4L419.7 335.0L419.8 336.7L419.9 338.3L420.1 340.0L420.2 341.6L420.3 343.3L420.4 344.9" fill="none" stroke="#fff" stroke-opacity="0.9" stroke-width="1.1" stroke-dasharray="1.2 1.8"/>
<path d="M60.1 122.0L61.7 121.5L63.3 121.0L65.0 120.5L66.6 120.1L68.3 119.6L69.9 119.1L71.5 118.7L73.2 118.2L74.8 117.7L76.5 117.3L78.1 116.8L79.8 116.3L81.4 115.9L83.0 115.4L84.7 114.9L86.3 114.5L88.0 114.0L89.6 113.5L91.3 113.1L92.9 112.6L94.6 112.2L96.2 111.7L97.8 111.2L99.5 110.8L101.1 110.3L102.8 109.9L104.4 109.4L106.1 109.0L107.7 108.5L109.4 108.1L111.0 107.6L112.7 107.2L114.3 106.7L116.0 106.3L117.6 105.8L119.3 105.4L120.9 104.9L122.6 104.5L124.2 104.0L125.9 103.6L127.5 103.1L129.2 102.7L130.8 102.2L132.5 101.8L134.1 101.3L135.8 100.9L137.4 100.5L139.1 100.0L140.7 99.6L142.4 99.1L144.0 98.7L145.7 98.2L147.3 97.8L149.0 97.4L150.6 96.9L152.3 96.5L153.9 96.0L155.6 95.6L157.2 95.2L158.9 94.7L160.5 94.3L162.2 93.8L163.8 93.4L165.5 93.0L167.1 92.5L168.8 92.1L170.4 91.6L172.1 91.2L173.7 90.8L175.4 90.3L177.0 89.9L178.7 89.5L180.3 89.0L182.0 88.6L183.6 88.1L185.3 87.7L186.9 87.3L188.6 86.8L190.2 86.4L191.9 85.9L193.5 85.5L195.2 85.1L196.8 84.6L198.5 84.2L200.1 83.8L201.8 83.3L203.4 82.9L205.1 82.4L206.7 82.0L208.4 81.6L210.0 81.1L211.7 80.7L213.3 80.2L215.0 79.8L216.6 79.3L218.3 78.9L219.9 78.5L221.6 78.0L223.2 77.6L224.9 77.1L226.5 76.7L228.2 76.2L229.8 75.8L231.5 75.4L233.1 74.9L234.8 74.5L236.4 74.1L238.1 73.6L239.8 73.2L241.4 72.8L243.1 72.4L244.7 72.0L246.4 71.6L248.0 71.2L249.7 70.8L251.4 70.4L253.0 70.0L254.7 69.6L256.4 69.3L258.0 68.9L259.7 68.5L261.4 68.2L263.1 67.9L264.7 67.5L266.4 67.2L268.1 66.9L269.8 66.6L271.5 66.3L273.2 66.0L274.9 65.7L276.6 65.5L278.3 65.2L280.0 65.0L281.7 64.8L283.4 64.6L285.1 64.4L286.8 64.2L288.5 64.0L290.2 63.8L292.0 63.6L293.7 63.4L295.4 63.2L297.1 62.9L298.8 62.7L300.5 62.5L302.2 62.2L303.8 62.0L305.5 61.7L307.2 61.4L308.9 61.0L310.5 60.7L312.2 60.3L313.8 59.8L315.4 59.4L317.0 58.9L318.6 58.4L320.2 57.8L321.8 57.2L323.3 56.5L324.9 55.8L326.4 55.1L327.9 54.3L329.4 53.5L331.0 52.6L332.5 51.8L334.0 50.9L335.5 50.0L337.1 49.2L338.6 48.3L340.2 47.5L341.8 46.7L343.5 45.9L345.1 45.3L346.7 45.0L348.1 45.1L349.3 45.7L350.3 46.7L351.2 48.0L352.1 49.5L352.8 51.0L353.5 52.6L354.1 54.1L354.6 55.7L355.2 57.3L355.6 59.0L356.0 60.6L356.4 62.3L356.7 63.9L357.0 65.6L357.3 67.3L357.6 69.1L357.8 70.8L358.0 72.5L358.3 74.2L358.5 76.0L358.7 77.7L358.9 79.5L359.1 81.2L359.3 82.9L359.5 84.6L359.8 86.4L360.1 88.1L360.4 89.8L360.7 91.4L361.0 93.1L361.4 94.8L361.8 96.4L362.2 98.1L362.7 99.7L363.2 101.3L363.8 102.9L364.4 104.4L365.0 106.0L365.7 107.5L366.4 109.0L367.2 110.5L368.0 112.0L368.9 113.4L369.9 114.8L370.8 116.3L371.8 117.6L372.9 119.0L373.9 120.4L374.8 121.9L375.8 123.3L376.7 124.8L377.5 126.3L378.2 127.8L378.9 129.4L379.4 131.1L379.9 132.7L380.4 134.4L380.8 136.1L381.3 137.7L381.8 139.4L382.4 141.0L383.0 142.5L383.8 144.0L384.7 145.4L385.7 146.8L386.9 148.1L388.0 149.3L389.3 150.5L390.6 151.7L391.8 152.9L393.1 154.1L394.3 155.4L395.4 156.6L396.4 158.0L397.3 159.4L398.2 160.8L398.9 162.3L399.6 163.8L400.2 165.4L400.8 167.0L401.3 168.6L401.8 170.2L402.3 171.9L402.8 173.5L403.3 175.1L403.8 176.8L404.3 178.4L404.7 180.1L405.2 181.7L405.7 183.4L406.2 185.0L406.6 186.7L407.1 188.3L407.5 190.0L407.9 191.6L408.3 193.3L408.7 195.0L409.0 196.6L409.4 198.3L409.7 200.0L410.1 201.6L410.4 203.3L410.7 205.0L411.0 206.7L411.3 208.3L411.6 210.0L411.9 211.7L412.2 213.4L412.5 215.1L412.7 216.8L413.0 218.4L413.3 220.1L413.5 221.8L413.8 223.5L414.0 225.2L414.3 226.9L414.5 228.6L414.7 230.3L414.9 232.0L415.2 233.7L415.4 235.4L415.6 237.0L415.8 238.7L416.0 240.4L416.2 242.1L416.4 243.8L416.6 245.5L416.8 247.2L417.0 248.9L417.1 250.6L417.3 252.3L417.5 254.0L417.7 255.7L417.9 257.4L418.0 259.1L418.2 260.8L418.4 262.5L418.5 264.2L418.7 265.9L418.8 267.6L419.0 269.3L419.1 271.0L419.3 272.7L419.5 274.4L419.6 276.2L419.8 277.9L419.9 279.6L420.1 281.3L420.2 283.0L420.4 284.7L420.5 286.4L420.6 288.1L420.8 289.8L420.9 291.5L421.1 293.2L421.2 294.9L421.4 296.6L421.5 298.3L421.7 300.0L421.8 301.7L422.0 303.4L422.1 305.1L422.3 306.8L422.4 308.5L422.6 310.2L422.7 311.9L422.9 313.6L423.1 315.3L423.2 317.0L423.4 318.7L423.6 320.4L423.7 322.1L423.9 323.8L424.1 325.5L424.1 334.5L423.9 332.8L423.7 331.1L423.6 329.4L423.4 327.7L423.2 326.0L423.1 324.3L422.9 322.6L422.7 320.9L422.6 319.2L422.4 317.5L422.3 315.8L422.1 314.1L422.0 312.4L421.8 310.7L421.7 309.0L421.5 307.3L421.4 305.6L421.2 303.9L421.1 302.2L420.9 300.5L420.8 298.8L420.6 297.1L420.5 295.4L420.4 293.7L420.2 292.0L420.1 290.3L419.9 288.6L419.8 286.9L419.6 285.2L419.5 283.4L419.3 281.7L419.1 280.0L419.0 278.3L418.8 276.6L418.7 274.9L418.5 273.2L418.4 271.5L418.2 269.8L418.0 268.1L417.9 266.4L417.7 264.7L417.5 263.0L417.3 261.3L417.1 259.6L417.0 257.9L416.8 256.2L416.6 254.5L416.4 252.8L416.2 251.1L416.0 249.4L415.8 247.7L415.6 246.0L415.4 244.4L415.2 242.7L414.9 241.0L414.7 239.3L414.5 237.6L414.3 235.9L414.0 234.2L413.8 232.5L413.5 230.8L413.3 229.1L413.0 227.4L412.7 225.8L412.5 224.1L412.2 222.4L411.9 220.7L411.6 219.0L411.3 217.3L411.0 215.7L410.7 214.0L410.4 212.3L410.1 210.6L409.7 209.0L409.4 207.3L409.0 205.6L408.7 204.0L408.3 202.3L407.9 200.6L407.5 199.0L407.1 197.3L406.6 195.7L406.2 194.0L405.7 192.4L405.2 190.7L404.7 189.1L404.3 187.4L403.8 185.8L403.3 184.1L402.8 182.5L402.3 180.9L401.8 179.2L401.3 177.6L400.8 176.0L400.2 174.4L399.6 172.8L398.9 171.3L398.2 169.8L397.3 168.4L396.4 167.0L395.4 165.6L394.3 164.4L393.1 163.1L391.8 161.9L390.6 160.7L389.3 159.5L388.0 158.3L386.9 157.1L385.7 155.8L384.7 154.4L383.8 153.0L383.0 151.5L382.4 150.0L381.8 148.4L381.3 146.7L380.8 145.1L380.4 143.4L379.9 141.7L379.4 140.1L378.9 138.4L378.2 136.8L377.5 135.3L376.7 133.8L375.8 132.3L374.8 130.9L373.9 129.4L372.9 128.0L371.8 126.6L370.8 125.3L369.9 123.8L368.9 122.4L368.0 121.0L367.2 119.5L366.4 118.0L365.7 116.5L365.0 115.0L364.4 113.4L363.8 111.9L363.2 110.3L362.7 108.7L362.2 107.1L361.8 105.4L361.4 103.8L361.0 102.1L360.7 100.4L360.4 98.8L360.1 97.1L359.8 95.4L359.5 93.6L359.3 91.9L359.1 90.2L358.9 88.5L358.7 86.7L358.5 85.0L358.3 83.2L358.0 81.5L357.8 79.8L357.6 78.1L357.3 76.3L357.0 74.6L356.7 72.9L356.4 71.3L356.0 69.6L355.6 68.0L355.2 66.3L354.6 64.7L354.1 63.1L353.5 61.6L352.8 60.0L352.1 58.5L351.2 57.0L350.3 55.7L349.3 54.7L348.1 54.1L346.7 54.0L345.1 54.3L343.5 54.9L341.8 55.7L340.2 56.5L338.6 57.3L337.1 58.2L335.5 59.0L334.0 59.9L332.5 60.8L331.0 61.6L329.4 62.5L327.9 63.3L326.4 64.1L324.9 64.8L323.3 65.5L321.8 66.2L320.2 66.8L318.6 67.4L317.0 67.9L315.4 68.4L313.8 68.8L312.2 69.3L310.5 69.7L308.9 70.0L307.2 70.4L305.5 70.7L303.8 71.0L302.2 71.2L300.5 71.5L298.8 71.7L297.1 71.9L295.4 72.2L293.7 72.4L292.0 72.6L290.2 72.8L288.5 73.0L286.8 73.2L285.1 73.4L283.4 73.6L281.7 73.8L280.0 74.0L278.3 74.2L276.6 74.5L274.9 74.7L273.2 75.0L271.5 75.3L269.8 75.6L268.1 75.9L266.4 76.2L264.7 76.5L263.1 76.9L261.4 77.2L259.7 77.5L258.0 77.9L256.4 78.3L254.7 78.6L253.0 79.0L251.4 79.4L249.7 79.8L248.0 80.2L246.4 80.6L244.7 81.0L243.1 81.4L241.4 81.8L239.8 82.2L238.1 82.6L236.4 83.1L234.8 83.5L233.1 83.9L231.5 84.4L229.8 84.8L228.2 85.2L226.5 85.7L224.9 86.1L223.2 86.6L221.6 87.0L219.9 87.5L218.3 87.9L216.6 88.3L215.0 88.8L213.3 89.2L211.7 89.7L210.0 90.1L208.4 90.6L206.7 91.0L205.1 91.4L203.4 91.9L201.8 92.3L200.1 92.8L198.5 93.2L196.8 93.6L195.2 94.1L193.5 94.5L191.9 94.9L190.2 95.4L188.6 95.8L186.9 96.3L185.3 96.7L183.6 97.1L182.0 97.6L180.3 98.0L178.7 98.5L177.0 98.9L175.4 99.3L173.7 99.8L172.1 100.2L170.4 100.6L168.8 101.1L167.1 101.5L165.5 102.0L163.8 102.4L162.2 102.8L160.5 103.3L158.9 103.7L157.2 104.2L155.6 104.6L153.9 105.0L152.3 105.5L150.6 105.9L149.0 106.4L147.3 106.8L145.7 107.2L144.0 107.7L142.4 108.1L140.7 108.6L139.1 109.0L137.4 109.5L135.8 109.9L134.1 110.3L132.5 110.8L130.8 111.2L129.2 111.7L127.5 112.1L125.9 112.6L124.2 113.0L122.6 113.5L120.9 113.9L119.3 114.4L117.6 114.8L116.0 115.3L114.3 115.7L112.7 116.2L111.0 116.6L109.4 117.1L107.7 117.5L106.1 118.0L104.4 118.4L102.8 118.9L101.1 119.3L99.5 119.8L97.8 120.2L96.2 120.7L94.6 121.2L92.9 121.6L91.3 122.1L89.6 122.5L88.0 123.0L86.3 123.5L84.7 123.9L83.0 124.4L81.4 124.9L79.8 125.3L78.1 125.8L76.5 126.3L74.8 126.7L73.2 127.2L71.5 127.7L69.9 128.1L68.3 128.6L66.6 129.1L65.0 129.5L63.3 130.0L61.7 130.5L60.1 131.0 Z" fill="#ec6b4a" fill-opacity="0.2" stroke="#ec6b4a" stroke-opacity="0.2" stroke-width="1"/>
<path d="M60.4 123.3L62.1 122.8L63.7 122.4L65.4 121.9L67.0 121.4L68.6 120.9L70.3 120.5L71.9 120.0L73.6 119.5L75.2 119.1L76.8 118.6L78.5 118.1L80.1 117.7L81.8 117.2L83.4 116.7L85.1 116.3L86.7 115.8L88.4 115.3L90.0 114.9L91.6 114.4L93.3 114.0L94.9 113.5L96.6 113.1L98.2 112.6L99.9 112.1L101.5 111.7L103.2 111.2L104.8 110.8L106.5 110.3L108.1 109.9L109.7 109.4L111.4 109.0L113.0 108.5L114.7 108.1L116.3 107.6L118.0 107.2L119.6 106.7L121.3 106.3L122.9 105.8L124.6 105.4L126.2 104.9L127.9 104.5L129.5 104.0L131.2 103.6L132.8 103.1L134.5 102.7L136.1 102.3L137.8 101.8L139.4 101.4L141.1 100.9L142.7 100.5L144.4 100.0L146.0 99.6L147.7 99.2L149.3 98.7L151.0 98.3L152.6 97.8L154.3 97.4L155.9 97.0L157.6 96.5L159.2 96.1L160.9 95.6L162.5 95.2L164.2 94.8L165.8 94.3L167.5 93.9L169.1 93.4L170.8 93.0L172.4 92.6L174.1 92.1L175.7 91.7L177.4 91.2L179.0 90.8L180.7 90.4L182.3 89.9L184.0 89.5L185.6 89.1L187.3 88.6L188.9 88.2L190.6 87.7L192.2 87.3L193.9 86.9L195.5 86.4L197.2 86.0L198.8 85.5L200.5 85.1L202.2 84.7L203.8 84.2L205.5 83.8L207.1 83.3L208.8 82.9L210.4 82.5L212.1 82.0L213.7 81.6L215.4 81.1L217.0 80.7L218.7 80.3L220.3 79.8L222.0 79.4L223.6 78.9L225.3 78.5L226.9 78.0L228.5 77.6L230.2 77.2L231.8 76.7L233.5 76.3L235.1 75.9L236.8 75.4L238.4 75.0L240.1 74.6L241.7 74.2L243.4 73.7L245.1 73.3L246.7 72.9L248.4 72.5L250.0 72.1L251.7 71.7L253.3 71.4L255.0 71.0L256.7 70.6L258.3 70.3L260.0 69.9L261.7 69.6L263.3 69.2L265.0 68.9L266.7 68.6L268.4 68.3L270.0 68.0L271.7 67.7L273.4 67.4L275.1 67.1L276.8 66.9L278.5 66.6L280.2 66.4L281.9 66.2L283.6 66.0L285.3 65.8L287.0 65.6L288.7 65.4L290.4 65.2L292.1 65.0L293.8 64.8L295.5 64.6L297.3 64.3L299.0 64.1L300.7 63.9L302.4 63.6L304.1 63.3L305.8 63.0L307.5 62.7L309.2 62.4L310.8 62.0L312.5 61.6L314.2 61.2L315.8 60.7L317.5 60.2L319.1 59.7L320.7 59.1L322.3 58.5L323.9 57.8L325.5 57.1L327.0 56.3L328.6 55.5L330.1 54.7L331.6 53.8L333.2 53.0L334.7 52.1L336.2 51.2L337.7 50.4L339.3 49.6L340.8 48.7L342.4 48.0L344.0 47.2L345.5 46.7L346.8 46.4L347.7 46.4L348.5 46.9L349.3 47.6L350.1 48.8L350.8 50.1L351.5 51.6L352.2 53.1L352.8 54.6L353.3 56.1L353.8 57.7L354.3 59.3L354.7 60.9L355.0 62.6L355.4 64.2L355.7 65.9L355.9 67.6L356.2 69.3L356.4 71.0L356.7 72.7L356.9 74.4L357.1 76.1L357.3 77.9L357.5 79.6L357.7 81.4L357.9 83.1L358.2 84.8L358.4 86.6L358.7 88.3L359.0 90.0L359.3 91.7L359.7 93.4L360.0 95.1L360.4 96.8L360.9 98.4L361.4 100.1L361.9 101.7L362.5 103.3L363.1 104.9L363.7 106.5L364.4 108.1L365.2 109.7L366.0 111.2L366.8 112.7L367.7 114.2L368.7 115.6L369.7 117.1L370.7 118.5L371.7 119.9L372.7 121.3L373.7 122.6L374.6 124.0L375.5 125.5L376.2 126.9L376.9 128.4L377.5 129.9L378.1 131.5L378.6 133.1L379.0 134.8L379.5 136.4L380.0 138.1L380.5 139.8L381.1 141.5L381.8 143.1L382.6 144.7L383.6 146.2L384.7 147.7L385.8 149.0L387.1 150.3L388.3 151.5L389.6 152.7L390.8 153.9L392.1 155.1L393.2 156.3L394.3 157.5L395.3 158.8L396.1 160.1L396.9 161.5L397.7 162.9L398.3 164.4L398.9 165.9L399.5 167.4L400.0 169.0L400.5 170.6L401.0 172.2L401.4 173.9L401.9 175.5L402.4 177.2L402.9 178.8L403.4 180.5L403.9 182.1L404.4 183.7L404.8 185.4L405.3 187.0L405.7 188.7L406.1 190.3L406.5 192.0L406.9 193.6L407.3 195.3L407.7 196.9L408.0 198.6L408.4 200.2L408.7 201.9L409.0 203.6L409.3 205.2L409.7 206.9L410.0 208.6L410.2 210.3L410.5 211.9L410.8 213.6L411.1 215.3L411.4 217.0L411.6 218.7L411.9 220.3L412.1 222.0L412.4 223.7L412.6 225.4L412.9 227.1L413.1 228.8L413.3 230.5L413.6 232.1L413.8 233.8L414.0 235.5L414.2 237.2L414.4 238.9L414.6 240.6L414.8 242.3L415.0 244.0L415.2 245.7L415.4 247.4L415.6 249.1L415.8 250.8L415.9 252.5L416.1 254.2L416.3 255.9L416.5 257.6L416.6 259.3L416.8 261.0L417.0 262.7L417.1 264.4L417.3 266.1L417.4 267.8L417.6 269.5L417.8 271.2L417.9 272.9L418.1 274.6L418.2 276.3L418.4 278.0L418.5 279.7L418.7 281.4L418.8 283.1L419.0 284.8L419.1 286.5L419.3 288.2L419.4 289.9L419.5 291.6L419.7 293.3L419.8 295.0L420.0 296.7L420.1 298.4L420.3 300.1L420.4 301.8L420.6 303.5L420.7 305.2L420.9 306.9L421.0 308.6L421.2 310.3L421.4 312.0L421.5 313.7L421.7 315.4L421.8 317.1L422.0 318.8L422.2 320.5L422.3 322.2L422.5 323.9L422.7 325.6" fill="none" stroke="#fff" stroke-opacity="0.45" stroke-width="1.1" stroke-dasharray="1.2 1.8"/>
<path d="M59.7 129.6L61.3 129.2L62.9 128.7L64.6 128.2L66.2 127.7L67.9 127.3L69.5 126.8L71.2 126.3L72.8 125.8L74.4 125.4L76.1 124.9L77.7 124.4L79.4 124.0L81.0 123.5L82.7 123.0L84.3 122.6L85.9 122.1L87.6 121.7L89.2 121.2L90.9 120.7L92.5 120.3L94.2 119.8L95.8 119.4L97.5 118.9L99.1 118.4L100.8 118.0L102.4 117.5L104.1 117.1L105.7 116.6L107.4 116.2L109.0 115.7L110.7 115.3L112.3 114.8L113.9 114.4L115.6 113.9L117.2 113.5L118.9 113.0L120.5 112.6L122.2 112.1L123.8 111.7L125.5 111.2L127.1 110.8L128.8 110.3L130.4 109.9L132.1 109.4L133.7 109.0L135.4 108.6L137.0 108.1L138.7 107.7L140.3 107.2L142.0 106.8L143.6 106.3L145.3 105.9L146.9 105.5L148.6 105.0L150.2 104.6L151.9 104.1L153.6 103.7L155.2 103.2L156.9 102.8L158.5 102.4L160.2 101.9L161.8 101.5L163.5 101.1L165.1 100.6L166.8 100.2L168.4 99.7L170.1 99.3L171.7 98.9L173.4 98.4L175.0 98.0L176.7 97.5L178.3 97.1L180.0 96.7L181.6 96.2L183.3 95.8L184.9 95.3L186.6 94.9L188.2 94.5L189.9 94.0L191.5 93.6L193.2 93.2L194.8 92.7L196.5 92.3L198.1 91.8L199.8 91.4L201.4 91.0L203.1 90.5L204.7 90.1L206.4 89.6L208.0 89.2L209.7 88.8L211.3 88.3L213.0 87.9L214.6 87.4L216.3 87.0L217.9 86.5L219.6 86.1L221.2 85.7L222.9 85.2L224.5 84.8L226.2 84.3L227.8 83.9L229.5 83.5L231.1 83.0L232.8 82.6L234.4 82.1L236.1 81.7L237.7 81.3L239.4 80.9L241.1 80.4L242.7 80.0L244.4 79.6L246.0 79.2L247.7 78.8L249.4 78.4L251.0 78.0L252.7 77.6L254.4 77.3L256.1 76.9L257.7 76.5L259.4 76.2L261.1 75.8L262.8 75.5L264.5 75.1L266.2 74.8L267.9 74.5L269.5 74.2L271.2 73.9L272.9 73.6L274.6 73.4L276.4 73.1L278.1 72.9L279.8 72.6L281.5 72.4L283.2 72.2L284.9 72.0L286.6 71.8L288.4 71.6L290.1 71.4L291.8 71.2L293.5 71.0L295.2 70.8L296.9 70.6L298.6 70.3L300.3 70.1L301.9 69.8L303.6 69.6L305.3 69.3L306.9 69.0L308.6 68.7L310.2 68.3L311.8 67.9L313.4 67.5L315.0 67.0L316.6 66.6L318.2 66.0L319.7 65.5L321.3 64.9L322.8 64.2L324.3 63.6L325.8 62.8L327.3 62.1L328.8 61.2L330.3 60.4L331.8 59.5L333.3 58.7L334.8 57.8L336.4 56.9L338.0 56.1L339.6 55.2L341.2 54.4L342.9 53.6L344.7 53.0L346.6 52.6L348.4 52.8L350.1 53.6L351.4 54.8L352.4 56.3L353.3 57.8L354.1 59.4L354.8 61.0L355.4 62.6L356.0 64.3L356.5 65.9L357.0 67.6L357.4 69.3L357.8 71.0L358.1 72.7L358.4 74.4L358.7 76.1L359.0 77.9L359.2 79.6L359.4 81.3L359.6 83.1L359.9 84.8L360.1 86.6L360.3 88.3L360.5 90.0L360.7 91.7L360.9 93.4L361.2 95.1L361.4 96.8L361.7 98.5L362.1 100.2L362.4 101.8L362.8 103.5L363.2 105.1L363.6 106.7L364.1 108.3L364.6 109.8L365.1 111.4L365.7 112.9L366.3 114.4L367.0 115.9L367.7 117.4L368.4 118.8L369.2 120.3L370.1 121.7L371.0 123.1L372.0 124.4L373.0 125.8L374.0 127.2L375.0 128.6L376.0 130.1L377.0 131.6L377.9 133.1L378.7 134.6L379.5 136.3L380.2 137.9L380.7 139.6L381.3 141.3L381.7 143.0L382.2 144.7L382.6 146.3L383.1 147.9L383.7 149.5L384.3 150.9L385.0 152.3L385.9 153.6L386.8 154.9L387.9 156.1L389.0 157.3L390.3 158.5L391.5 159.7L392.8 160.9L394.1 162.1L395.3 163.4L396.5 164.8L397.5 166.2L398.5 167.6L399.4 169.1L400.2 170.7L400.9 172.3L401.5 173.9L402.1 175.5L402.6 177.2L403.2 178.8L403.6 180.5L404.1 182.1L404.6 183.7L405.1 185.4L405.6 187.0L406.1 188.7L406.6 190.3L407.0 192.0L407.5 193.6L408.0 195.3L408.4 197.0L408.8 198.6L409.3 200.3L409.7 202.0L410.0 203.6L410.4 205.3L410.8 207.0L411.1 208.7L411.5 210.4L411.8 212.0L412.1 213.7L412.4 215.4L412.7 217.1L413.0 218.8L413.3 220.5L413.6 222.2L413.9 223.9L414.1 225.5L414.4 227.2L414.6 228.9L414.9 230.6L415.2 232.3L415.4 234.0L415.6 235.7L415.9 237.4L416.1 239.1L416.3 240.8L416.5 242.5L416.8 244.2L417.0 245.9L417.2 247.6L417.4 249.3L417.6 251.0L417.8 252.7L418.0 254.4L418.2 256.1L418.4 257.8L418.5 259.5L418.7 261.2L418.9 262.9L419.1 264.6L419.2 266.3L419.4 268.0L419.6 269.7L419.7 271.4L419.9 273.1L420.1 274.8L420.2 276.5L420.4 278.2L420.5 279.9L420.7 281.6L420.9 283.3L421.0 285.0L421.2 286.7L421.3 288.4L421.5 290.1L421.6 291.8L421.7 293.5L421.9 295.3L422.0 297.0L422.2 298.7L422.3 300.4L422.5 302.1L422.6 303.8L422.8 305.5L422.9 307.2L423.1 308.9L423.2 310.6L423.4 312.3L423.5 314.0L423.7 315.7L423.8 317.4L424.0 319.1L424.1 320.8L424.3 322.5L424.5 324.2L424.6 325.9L424.8 327.6L425.0 329.3L425.1 331.0L425.3 332.7L425.5 334.3" fill="none" stroke="#fff" stroke-opacity="0.45" stroke-width="1.1" stroke-dasharray="1.2 1.8"/>
<path d="M92.7 15.1L93.1 16.9L93.5 18.8L93.9 20.6L94.3 22.4L94.8 24.2L95.2 26.0L95.6 27.8L96.0 29.6L96.4 31.4L96.8 33.2L97.2 35.0L97.5 36.8L97.9 38.6L98.3 40.4L98.7 42.2L99.1 44.0L99.5 45.9L99.9 47.7L100.3 49.5L100.6 51.3L101.0 53.1L101.4 54.9L101.8 56.7L102.1 58.5L102.5 60.3L102.9 62.1L103.3 63.9L103.6 65.7L104.0 67.5L104.4 69.3L104.8 71.1L105.1 72.9L105.5 74.7L105.9 76.5L106.3 78.3L106.6 80.1L107.0 81.9L107.4 83.7L107.8 85.4L108.1 87.2L108.5 89.0L108.9 90.8L109.3 92.6L109.6 94.4L110.0 96.2L110.4 98.0L110.8 99.8L111.2 101.6L111.6 103.4L112.0 105.2L112.4 107.0L112.8 108.8L113.1 110.6L113.5 112.4L113.9 114.1L114.3 115.9L114.8 117.7L115.2 119.5L115.6 121.3L116.0 123.1L116.4 124.9L116.8 126.7L117.2 128.5L117.7 130.3L118.1 132.1L118.5 133.8L119.0 135.6L119.4 137.4L119.8 139.2L120.3 141.0L120.7 142.8L121.2 144.6L121.7 146.4L122.1 148.2L122.6 149.9L123.1 151.7L123.6 153.5L124.1 155.3L124.6 157.0L125.1 158.8L125.7 160.6L126.2 162.3L126.8 164.1L127.4 165.8L128.0 167.6L128.6 169.3L129.3 171.1L129.9 172.8L130.6 174.5L131.3 176.2L132.0 177.9L132.8 179.7L133.5 181.3L134.3 183.0L135.1 184.7L136.0 186.4L136.8 188.0L137.7 189.7L138.6 191.3L139.6 193.0L140.5 194.6L141.6 196.2L142.6 197.8L143.7 199.4L144.8 201.0L145.9 202.5L147.1 204.0L148.3 205.5L149.5 207.0L150.8 208.4L152.1 209.8L153.4 211.1L154.8 212.4L156.2 213.5L157.6 214.7L159.0 215.7L160.5 216.7L162.1 217.5L163.6 218.3L165.2 218.9L166.8 219.5L168.5 219.9L170.1 220.3L171.8 220.5L173.5 220.7L175.3 220.8L177.0 220.7L178.8 220.7L180.6 220.5L182.4 220.3L184.2 220.1L186.0 219.8L187.8 219.5L189.6 219.1L191.4 218.7L193.2 218.3L195.0 217.9L196.7 217.4L198.5 217.0L200.3 216.5L202.0 216.0L203.8 215.4L205.5 214.9L207.2 214.3L209.0 213.8L210.7 213.2L212.4 212.5L214.1 211.9L215.8 211.3L217.5 210.6L219.2 209.9L220.8 209.2L222.5 208.5L224.2 207.8L225.8 207.0L227.5 206.2L229.1 205.5L230.8 204.7L232.4 203.8L234.0 203.0L235.6 202.2L237.3 201.3L238.9 200.4L240.5 199.6L242.1 198.7L243.6 197.7L245.2 196.8L246.8 195.9L248.4 194.9L249.9 193.9L251.5 193.0L253.0 192.0L254.6 191.0L256.1 190.0L257.6 188.9L259.2 187.9L260.7 186.8L262.2 185.8L263.7 184.7L265.2 183.6L266.7 182.5L268.2 181.4L269.6 180.3L271.1 179.1L272.6 178.0L274.0 176.9L275.5 175.7L276.9 174.5L278.4 173.4L279.8 172.2L281.3 171.0L282.7 169.8L284.1 168.6L285.5 167.3L286.9 166.1L288.3 164.9L289.7 163.6L291.1 162.4L292.5 161.1L293.9 159.9L295.2 158.6L296.6 157.3L298.0 156.1L299.3 154.8L300.7 153.5L302.0 152.2L303.3 150.9L304.7 149.6L306.0 148.3L307.3 146.9L308.6 145.6L309.9 144.3L311.2 143.0L312.5 141.6L313.8 140.3L315.1 138.9L316.4 137.6L317.6 136.2L318.9 134.9L320.2 133.5L321.4 132.2L322.7 130.8L323.9 129.5L325.2 128.1L326.4 126.7L327.6 125.4L328.8 124.0L330.1 122.6L331.3 121.3L332.5 119.9L333.7 118.5L334.9 117.1L336.0 115.7L337.2 114.3L338.4 112.9L339.6 111.5L340.7 110.1L341.9 108.7L343.1 107.3L344.2 105.9L345.3 104.5L346.5 103.1L347.6 101.7L348.7 100.3L349.9 98.8L351.0 97.4L352.1 96.0L353.2 94.5L354.3 93.1L355.4 91.6L356.5 90.2L357.5 88.7L358.6 87.3L359.7 85.8L360.7 84.3L361.8 82.8L362.8 81.4L363.9 79.9L364.9 78.4L366.0 76.9L367.0 75.4L368.0 73.9L369.0 72.4L370.0 70.8L371.0 69.3L372.0 67.8L373.0 66.3L374.0 64.7L375.0 63.2L375.9 61.6L376.9 60.1L377.9 58.5L378.8 56.9L379.8 55.4L380.7 53.8L381.7 52.2L382.6 50.6L383.5 49.0L384.4 47.4L385.3 45.8L386.2 44.2L387.1 42.5L388.0 40.9L388.9 39.3L389.8 37.6L390.7 35.9L391.6 34.3L392.4 32.6L393.3 30.9L394.1 29.2L395.0 27.6L395.8 25.9L396.6 24.1L397.5 22.4L398.3 20.7L399.1 19.0L399.9 17.2L400.7 15.5L401.5 13.7" fill="none" stroke="#000" stroke-width="3.4" stroke-dasharray="11.1 4.8" stroke-linecap="butt" stroke-linejoin="round"/>
<path d="M60.0 150.5L61.7 150.1L63.4 149.7L65.1 149.3L66.8 148.9L68.5 148.4L70.2 148.0L71.8 147.6L73.5 147.1L75.2 146.7L76.9 146.3L78.6 145.8L80.3 145.4L81.9 144.9L83.6 144.4L85.3 144.0L87.0 143.5L88.6 143.0L90.3 142.5L92.0 142.1L93.7 141.6L95.3 141.1L97.0 140.6L98.7 140.1L100.3 139.6L102.0 139.1L103.7 138.6L105.4 138.1L107.0 137.6L108.7 137.1L110.4 136.6L112.0 136.1L113.7 135.5L115.4 135.0L117.0 134.5L118.7 134.0L120.4 133.5L122.0 133.0L123.7 132.4L125.3 131.9L127.0 131.4L128.7 130.9L130.3 130.4L132.0 129.8L133.7 129.3L135.3 128.8L137.0 128.3L138.7 127.7L140.3 127.2L142.0 126.7L143.6 126.2L145.3 125.7L147.0 125.1L148.6 124.6L150.3 124.1L152.0 123.6L153.6 123.1L155.3 122.6L157.0 122.1L158.6 121.6L160.3 121.0L162.0 120.5L163.6 120.0L165.3 119.5L167.0 119.0L168.7 118.6L170.3 118.1L172.0 117.6L173.7 117.1L175.4 116.6L177.0 116.1L178.7 115.7L180.4 115.2L182.1 114.7L183.7 114.3L185.4 113.8L187.1 113.3L188.8 112.9L190.5 112.4L192.1 112.0L193.8 111.5L195.5 111.1L197.2 110.6L198.9 110.2L200.5 109.7L202.2 109.3L203.9 108.8L205.6 108.4L207.3 107.9L209.0 107.5L210.7 107.1L212.3 106.6L214.0 106.2L215.7 105.8L217.4 105.3L219.1 104.9L220.8 104.5L222.5 104.0L224.1 103.6L225.8 103.2L227.5 102.7L229.2 102.3L230.9 101.9L232.6 101.5L234.3 101.0L236.0 100.6L237.6 100.2L239.3 99.7L241.0 99.3L242.7 98.9L244.4 98.4L246.1 98.0L247.8 97.6L249.5 97.1L251.1 96.7L252.8 96.3L254.5 95.8L256.2 95.4L257.9 95.0L259.6 94.5L261.3 94.1L263.0 93.6L264.6 93.2L266.3 92.7L268.0 92.3L269.7 91.8L271.4 91.4L273.1 90.9L274.7 90.5L276.4 90.0L278.1 89.5L279.8 89.1L281.5 88.6L283.1 88.1L284.8 87.6L286.5 87.2L288.2 86.7L289.9 86.2L291.5 85.7L293.2 85.2L294.9 84.7L296.6 84.2L298.2 83.7L299.9 83.2L301.6 82.7L303.3 82.2L304.9 81.7L306.6 81.2L308.3 80.7L309.9 80.2L311.6 79.7L313.3 79.1L315.0 78.6L316.6 78.1L318.3 77.6L320.0 77.1L321.6 76.6L323.3 76.1L325.0 75.6L326.7 75.2L328.3 74.7L330.0 74.2L331.7 73.8L333.4 73.3L335.1 72.9L336.7 72.5L338.4 72.1L340.1 71.7L341.8 71.3L343.5 70.9L345.2 70.6L346.9 70.3L348.6 69.9L350.3 69.7L352.0 69.4L353.7 69.2L355.4 69.0L357.1 68.8L358.8 68.7L360.6 68.7L362.3 68.7L364.0 68.8L365.7 68.9L367.5 69.0L369.2 69.2L370.9 69.5L372.7 69.8L374.4 70.1L376.1 70.5L377.9 70.9L379.6 71.3L381.3 71.8L383.1 72.3L384.7 72.8L386.4 73.4L388.1 74.1L389.7 74.8L391.3 75.5L392.8 76.3L394.3 77.2L395.7 78.2L397.1 79.2L398.5 80.3L399.8 81.4L401.0 82.6L402.2 83.8L403.4 85.1L404.5 86.4L405.5 87.8L406.5 89.2L407.4 90.6L408.3 92.1L409.1 93.6L409.8 95.1L410.5 96.6L411.1 98.2L411.7 99.8L412.3 101.4L412.8 103.1L413.2 104.7L413.7 106.4L414.1 108.1L414.4 109.8L414.8 111.5L415.1 113.2L415.4 114.9L415.6 116.7L415.9 118.4L416.2 120.1L416.4 121.9L416.7 123.6L416.9 125.4L417.1 127.1L417.4 128.9L417.6 130.6L417.9 132.4L418.1 134.1L418.3 135.8L418.6 137.6L418.8 139.3L419.0 141.1L419.2 142.8L419.5 144.5L419.7 146.3L419.9 148.0L420.1 149.8L420.4 151.5L420.6 153.2L420.8 155.0L421.0 156.7L421.2 158.4L421.4 160.2L421.7 161.9L421.9 163.6L422.1 165.4L422.3 167.1L422.5 168.8L422.7 170.6L422.9 172.3L423.1 174.0L423.3 175.8L423.5 177.5L423.7 179.2L423.9 181.0L424.1 182.7L424.3 184.4L424.5 186.2L424.7 187.9L424.9 189.6L425.1 191.3L425.3 193.1L425.5 194.8L425.7 196.5L425.9 198.3L426.1 200.0L426.2 201.7L426.4 203.4L426.6 205.2L426.8 206.9L427.0 208.6L427.2 210.4L427.3 212.1L427.5 213.8L427.7 215.5L427.9 217.3L428.1 219.0L428.2 220.7L428.4 222.5L428.6 224.2L428.8 225.9L428.9 227.6L429.1 229.4L429.3 231.1L429.4 232.8L429.6 234.6L429.8 236.3L429.9 238.0L430.1 239.7L430.3 241.5L430.4 243.2L430.6 244.9L430.8 246.7L430.9 248.4L431.1 250.1L431.3 251.8L431.4 253.6L431.6 255.3L431.7 257.0L431.9 258.8L432.1 260.5L432.2 262.2L432.4 264.0L432.5 265.7L432.7 267.4L432.8 269.2L433.0 270.9L433.1 272.6L433.3 274.4L433.4 276.1L433.6 277.8L433.7 279.6L433.9 281.3L434.0 283.0L434.2 284.8L434.3 286.5L434.5 288.2L434.6 290.0L434.8 291.7L434.9 293.5L435.1 295.2L435.2 296.9L435.4 298.7L435.5 300.4L435.6 302.2L435.8 303.9L435.9 305.6L436.1 307.4L436.2 309.1L436.4 310.9L436.5 312.6L436.6 314.4L436.8 316.1L436.9 317.9L437.1 319.6L437.2 321.4L437.3 323.1L437.5 324.8L437.6 326.6L437.8 328.4L437.9 330.1" fill="none" stroke="#0d0887" stroke-width="1.9" stroke-linecap="butt" stroke-linejoin="round"/>
<path d="M60.0 108.7L61.6 108.3L63.2 107.9L64.8 107.5L66.3 107.1L67.9 106.6L69.5 106.2L71.1 105.8L72.7 105.4L74.2 104.9L75.8 104.5L77.4 104.1L79.0 103.6L80.5 103.2L82.1 102.8L83.7 102.3L85.3 101.9L86.9 101.4L88.4 101.0L90.0 100.6L91.6 100.1L93.2 99.7L94.7 99.2L96.3 98.8L97.9 98.3L99.5 97.9L101.0 97.5L102.6 97.0L104.2 96.6L105.8 96.1L107.3 95.7L108.9 95.2L110.5 94.8L112.0 94.4L113.6 93.9L115.2 93.5L116.8 93.0L118.3 92.6L119.9 92.1L121.5 91.7L123.1 91.3L124.7 90.8L126.2 90.4L127.8 90.0L129.4 89.5L131.0 89.1L132.5 88.7L134.1 88.2L135.7 87.8L137.3 87.4L138.9 87.0L140.4 86.5L142.0 86.1L143.6 85.7L145.2 85.3L146.8 84.9L148.3 84.5L149.9 84.0L151.5 83.6L153.1 83.2L154.7 82.8L156.3 82.4L157.8 82.0L159.4 81.6L161.0 81.2L162.6 80.9L164.2 80.5L165.8 80.1L167.4 79.7L169.0 79.3L170.6 79.0L172.2 78.6L173.8 78.2L175.4 77.9L177.0 77.5L178.6 77.1L180.1 76.8L181.7 76.4L183.3 76.1L184.9 75.7L186.5 75.3L188.1 75.0L189.7 74.6L191.3 74.3L192.9 73.9L194.5 73.6L196.1 73.2L197.7 72.8L199.3 72.5L200.9 72.1L202.5 71.7L204.1 71.4L205.7 71.0L207.3 70.6L208.9 70.2L210.5 69.8L212.0 69.5L213.6 69.1L215.2 68.7L216.8 68.3L218.4 67.8L220.0 67.4L221.5 67.0L223.1 66.6L224.7 66.2L226.3 65.7L227.8 65.3L229.4 64.8L231.0 64.4L232.5 63.9L234.1 63.4L235.7 62.9L237.2 62.4L238.8 61.9L240.3 61.4L241.9 60.9L243.4 60.4L245.0 59.8L246.5 59.3L248.0 58.7L249.6 58.2L251.1 57.6L252.6 57.0L254.2 56.4L255.7 55.8L257.2 55.2L258.7 54.6L260.3 54.0L261.8 53.4L263.3 52.9L264.9 52.3L266.4 51.8L267.9 51.3L269.5 50.8L271.1 50.3L272.6 49.9L274.2 49.5L275.8 49.2L277.4 48.9L279.0 48.6L280.6 48.4L282.2 48.2L283.9 48.1L285.5 48.0L287.2 48.0L288.9 48.0L290.5 48.1L292.2 48.2L293.9 48.4L295.5 48.6L297.2 48.9L298.8 49.2L300.4 49.5L302.0 49.9L303.6 50.3L305.2 50.8L306.7 51.3L308.3 51.8L309.8 52.4L311.3 53.0L312.8 53.6L314.2 54.3L315.7 55.0L317.1 55.7L318.5 56.5L319.9 57.3L321.3 58.1L322.7 59.0L324.0 59.9L325.3 60.8L326.7 61.8L328.0 62.7L329.2 63.7L330.5 64.7L331.7 65.8L333.0 66.9L334.2 68.0L335.4 69.1L336.6 70.2L337.7 71.4L338.9 72.5L340.0 73.7L341.1 74.9L342.2 76.2L343.3 77.4L344.3 78.7L345.4 79.9L346.4 81.2L347.4 82.5L348.4 83.8L349.4 85.2L350.3 86.5L351.3 87.8L352.2 89.2L353.1 90.6L354.0 92.0L354.9 93.3L355.7 94.7L356.6 96.2L357.4 97.6L358.3 99.0L359.1 100.4L359.9 101.8L360.7 103.3L361.4 104.7L362.2 106.2L362.9 107.6L363.7 109.1L364.4 110.5L365.1 112.0L365.8 113.4L366.5 114.9L367.1 116.4L367.8 117.9L368.4 119.4L369.0 120.9L369.5 122.4L370.1 123.9L370.6 125.4L371.0 127.0L371.5 128.6L371.9 130.2L372.2 131.8L372.6 133.4L372.9 135.0L373.3 136.6L373.6 138.2L373.9 139.9L374.3 141.5L374.7 143.1L375.1 144.6L375.6 146.2L376.1 147.7L376.7 149.2L377.4 150.7L378.1 152.2L378.8 153.7L379.5 155.1L380.1 156.6L380.8 158.1L381.4 159.6L382.0 161.2L382.5 162.7L383.0 164.3L383.5 165.9L384.0 167.5L384.4 169.1L384.9 170.7L385.4 172.2L385.8 173.8L386.3 175.4L386.8 177.0L387.3 178.5L387.9 180.1L388.5 181.6L389.1 183.1L389.8 184.5L390.5 186.0L391.2 187.4L392.0 188.8L392.8 190.1L393.6 191.4L394.6 192.7L395.5 194.0L396.5 195.2L397.6 196.4L398.6 197.6L399.7 198.7L400.7 199.9L401.7 201.2L402.6 202.5L403.4 203.8L404.2 205.2L404.9 206.6L405.5 208.0L406.0 209.5L406.4 211.1L406.8 212.6L407.1 214.3L407.4 215.9L407.6 217.5L407.8 219.2L408.0 220.8L408.1 222.5L408.3 224.2L408.5 225.8L408.7 227.5L408.9 229.1L409.1 230.8L409.3 232.4L409.4 234.0L409.6 235.7L409.8 237.3L410.0 239.0L410.2 240.6L410.4 242.2L410.6 243.8L410.8 245.5L410.9 247.1L411.1 248.7L411.3 250.4L411.5 252.0L411.7 253.6L411.9 255.2L412.1 256.8L412.3 258.5L412.4 260.1L412.6 261.7L412.8 263.3L413.0 264.9L413.2 266.6L413.4 268.2L413.5 269.8L413.7 271.4L413.9 273.0L414.1 274.6L414.3 276.2L414.4 277.9L414.6 279.5L414.8 281.1L415.0 282.7L415.1 284.3L415.3 285.9L415.5 287.6L415.6 289.2L415.8 290.8L415.9 292.4L416.1 294.0L416.3 295.6L416.4 297.3L416.6 298.9L416.7 300.5L416.9 302.1L417.0 303.8L417.2 305.4L417.3 307.0L417.4 308.7L417.6 310.3L417.7 311.9L417.8 313.6L418.0 315.2L418.1 316.8L418.2 318.5L418.3 320.1L418.4 321.8L418.5 323.4L418.7 325.1L418.8 326.7L418.9 328.4L419.0 330.0" fill="none" stroke="#be3884" stroke-width="1.9" stroke-linecap="butt" stroke-linejoin="round"/>
<path d="M60.0 181.4L61.4 181.1L62.8 180.7L64.2 180.4L65.7 180.0L67.1 179.7L68.5 179.3L69.9 179.0L71.4 178.6L72.8 178.2L74.2 177.9L75.6 177.5L77.0 177.2L78.5 176.8L79.9 176.4L81.3 176.1L82.7 175.7L84.1 175.3L85.5 175.0L87.0 174.6L88.4 174.2L89.8 173.9L91.2 173.5L92.6 173.1L94.0 172.8L95.5 172.4L96.9 172.0L98.3 171.6L99.7 171.3L101.1 170.9L102.5 170.5L104.0 170.2L105.4 169.8L106.8 169.4L108.2 169.0L109.6 168.7L111.0 168.3L112.4 167.9L113.9 167.5L115.3 167.2L116.7 166.8L118.1 166.4L119.5 166.0L120.9 165.7L122.3 165.3L123.7 164.9L125.2 164.5L126.6 164.2L128.0 163.8L129.4 163.4L130.8 163.0L132.2 162.6L133.6 162.3L135.1 161.9L136.5 161.5L137.9 161.1L139.3 160.8L140.7 160.4L142.1 160.0L143.5 159.6L144.9 159.3L146.4 158.9L147.8 158.5L149.2 158.1L150.6 157.8L152.0 157.4L153.4 157.0L154.8 156.6L156.2 156.3L157.7 155.9L159.1 155.5L160.5 155.2L161.9 154.8L163.3 154.4L164.7 154.0L166.1 153.7L167.6 153.3L169.0 152.9L170.4 152.6L171.8 152.2L173.2 151.8L174.6 151.5L176.0 151.1L177.5 150.7L178.9 150.4L180.3 150.0L181.7 149.6L183.1 149.3L184.5 148.9L186.0 148.5L187.4 148.2L188.8 147.8L190.2 147.5L191.6 147.1L193.0 146.7L194.5 146.4L195.9 146.0L197.3 145.6L198.7 145.3L200.1 144.9L201.6 144.6L203.0 144.2L204.4 143.9L205.8 143.5L207.2 143.1L208.7 142.8L210.1 142.4L211.5 142.1L212.9 141.7L214.3 141.4L215.8 141.0L217.2 140.6L218.6 140.3L220.0 139.9L221.4 139.6L222.9 139.2L224.3 138.9L225.7 138.5L227.1 138.2L228.5 137.8L230.0 137.5L231.4 137.1L232.8 136.7L234.2 136.4L235.6 136.0L237.0 135.7L238.5 135.3L239.9 135.0L241.3 134.6L242.7 134.3L244.2 134.0L245.6 133.6L247.0 133.3L248.4 133.0L249.9 132.7L251.3 132.4L252.7 132.1L254.2 131.8L255.6 131.5L257.0 131.3L258.5 131.0L259.9 130.8L261.4 130.5L262.8 130.3L264.3 130.1L265.7 129.9L267.2 129.7L268.7 129.6L270.1 129.4L271.6 129.3L273.0 129.2L274.5 129.2L275.9 129.1L277.3 129.1L278.8 129.1L280.2 129.1L281.7 129.1L283.1 129.1L284.6 129.1L286.0 129.1L287.5 129.1L288.9 129.0L290.4 128.9L291.9 128.7L293.3 128.5L294.8 128.3L296.3 128.1L297.8 127.8L299.3 127.5L300.8 127.3L302.3 127.0L303.8 126.8L305.2 126.5L306.7 126.3L308.2 126.1L309.7 126.0L311.1 125.9L312.6 125.9L314.0 125.9L315.4 125.9L316.8 126.1L318.2 126.3L319.6 126.6L321.0 127.1L322.3 127.5L323.6 128.1L324.9 128.8L326.2 129.5L327.4 130.2L328.7 131.1L329.8 131.9L331.0 132.9L332.1 133.8L333.2 134.8L334.3 135.8L335.4 136.8L336.5 137.8L337.6 138.7L338.8 139.6L339.9 140.4L341.2 141.2L342.4 141.9L343.7 142.6L345.0 143.2L346.3 143.8L347.6 144.5L348.9 145.1L350.1 145.9L351.3 146.7L352.5 147.6L353.6 148.5L354.6 149.5L355.7 150.5L356.8 151.5L357.8 152.5L358.8 153.6L359.8 154.7L360.7 155.8L361.6 156.9L362.5 158.1L363.4 159.2L364.3 160.4L365.1 161.5L366.0 162.7L366.9 163.8L367.9 164.9L368.9 166.0L369.9 167.1L370.9 168.2L371.9 169.2L372.9 170.2L374.0 171.3L375.0 172.3L376.0 173.4L376.9 174.5L377.8 175.6L378.7 176.8L379.6 178.0L380.5 179.1L381.3 180.3L382.2 181.4L383.1 182.6L384.1 183.7L385.1 184.7L386.1 185.8L387.2 186.8L388.3 187.8L389.3 188.9L390.4 189.9L391.4 190.9L392.4 192.0L393.4 193.1L394.3 194.2L395.2 195.3L396.1 196.5L396.9 197.7L397.6 198.9L398.4 200.1L399.1 201.4L399.8 202.6L400.4 203.9L401.1 205.2L401.7 206.5L402.3 207.9L402.8 209.2L403.4 210.5L403.9 211.9L404.4 213.3L404.9 214.7L405.4 216.1L405.9 217.4L406.4 218.8L406.9 220.3L407.3 221.7L407.8 223.1L408.3 224.5L408.7 225.9L409.2 227.3L409.6 228.7L410.1 230.1L410.6 231.5L411.1 232.9L411.6 234.3L412.1 235.7L412.6 237.0L413.1 238.4L413.7 239.8L414.2 241.1L414.7 242.5L415.2 243.9L415.8 245.2L416.3 246.6L416.8 248.0L417.3 249.3L417.8 250.7L418.3 252.0L418.8 253.4L419.3 254.8L419.7 256.2L420.2 257.5L420.6 258.9L421.0 260.3L421.4 261.7L421.8 263.1L422.2 264.5L422.5 265.9L422.8 267.3L423.1 268.8L423.4 270.2L423.7 271.6L423.9 273.1L424.2 274.5L424.4 276.0L424.6 277.4L424.8 278.9L425.0 280.3L425.2 281.8L425.4 283.2L425.5 284.7L425.7 286.2L425.8 287.7L426.0 289.1L426.1 290.6L426.2 292.1L426.4 293.6L426.5 295.0L426.6 296.5L426.7 298.0L426.8 299.5L426.9 301.0L427.0 302.4L427.2 303.9L427.3 305.4L427.4 306.9L427.5 308.3L427.6 309.8L427.7 311.3L427.9 312.7L428.0 314.2L428.1 315.7L428.3 317.1L428.4 318.6L428.6 320.0L428.8 321.5L428.9 322.9L429.1 324.3L429.3 325.7L429.5 327.2L429.8 328.6L430.0 330.0" fill="none" stroke="#fdb62b" stroke-width="1.9" stroke-linecap="butt" stroke-linejoin="round"/>
<path d="M60.1 126.5L61.7 126.0L63.3 125.5L65.0 125.0L66.6 124.6L68.3 124.1L69.9 123.6L71.5 123.2L73.2 122.7L74.8 122.2L76.5 121.8L78.1 121.3L79.8 120.8L81.4 120.4L83.0 119.9L84.7 119.4L86.3 119.0L88.0 118.5L89.6 118.0L91.3 117.6L92.9 117.1L94.6 116.7L96.2 116.2L97.8 115.7L99.5 115.3L101.1 114.8L102.8 114.4L104.4 113.9L106.1 113.5L107.7 113.0L109.4 112.6L111.0 112.1L112.7 111.7L114.3 111.2L116.0 110.8L117.6 110.3L119.3 109.9L120.9 109.4L122.6 109.0L124.2 108.5L125.9 108.1L127.5 107.6L129.2 107.2L130.8 106.7L132.5 106.3L134.1 105.8L135.8 105.4L137.4 105.0L139.1 104.5L140.7 104.1L142.4 103.6L144.0 103.2L145.7 102.7L147.3 102.3L149.0 101.9L150.6 101.4L152.3 101.0L153.9 100.5L155.6 100.1L157.2 99.7L158.9 99.2L160.5 98.8L162.2 98.3L163.8 97.9L165.5 97.5L167.1 97.0L168.8 96.6L170.4 96.1L172.1 95.7L173.7 95.3L175.4 94.8L177.0 94.4L178.7 94.0L180.3 93.5L182.0 93.1L183.6 92.6L185.3 92.2L186.9 91.8L188.6 91.3L190.2 90.9L191.9 90.4L193.5 90.0L195.2 89.6L196.8 89.1L198.5 88.7L200.1 88.3L201.8 87.8L203.4 87.4L205.1 86.9L206.7 86.5L208.4 86.1L210.0 85.6L211.7 85.2L213.3 84.7L215.0 84.3L216.6 83.8L218.3 83.4L219.9 83.0L221.6 82.5L223.2 82.1L224.9 81.6L226.5 81.2L228.2 80.7L229.8 80.3L231.5 79.9L233.1 79.4L234.8 79.0L236.4 78.6L238.1 78.1L239.8 77.7L241.4 77.3L243.1 76.9L244.7 76.5L246.4 76.1L248.0 75.7L249.7 75.3L251.4 74.9L253.0 74.5L254.7 74.1L256.4 73.8L258.0 73.4L259.7 73.0L261.4 72.7L263.1 72.4L264.7 72.0L266.4 71.7L268.1 71.4L269.8 71.1L271.5 70.8L273.2 70.5L274.9 70.2L276.6 70.0L278.3 69.7L280.0 69.5L281.7 69.3L283.4 69.1L285.1 68.9L286.8 68.7L288.5 68.5L290.2 68.3L292.0 68.1L293.7 67.9L295.4 67.7L297.1 67.4L298.8 67.2L300.5 67.0L302.2 66.7L303.8 66.5L305.5 66.2L307.2 65.9L308.9 65.5L310.5 65.2L312.2 64.8L313.8 64.3L315.4 63.9L317.0 63.4L318.6 62.9L320.2 62.3L321.8 61.7L323.3 61.0L324.9 60.3L326.4 59.6L327.9 58.8L329.4 58.0L331.0 57.1L332.5 56.3L334.0 55.4L335.5 54.5L337.1 53.7L338.6 52.8L340.2 52.0L341.8 51.2L343.5 50.4L345.1 49.8L346.7 49.5L348.1 49.6L349.3 50.2L350.3 51.2L351.2 52.5L352.1 54.0L352.8 55.5L353.5 57.1L354.1 58.6L354.6 60.2L355.2 61.8L355.6 63.5L356.0 65.1L356.4 66.8L356.7 68.4L357.0 70.1L357.3 71.8L357.6 73.6L357.8 75.3L358.0 77.0L358.3 78.7L358.5 80.5L358.7 82.2L358.9 84.0L359.1 85.7L359.3 87.4L359.5 89.1L359.8 90.9L360.1 92.6L360.4 94.3L360.7 95.9L361.0 97.6L361.4 99.3L361.8 100.9L362.2 102.6L362.7 104.2L363.2 105.8L363.8 107.4L364.4 108.9L365.0 110.5L365.7 112.0L366.4 113.5L367.2 115.0L368.0 116.5L368.9 117.9L369.9 119.3L370.8 120.8L371.8 122.1L372.9 123.5L373.9 124.9L374.8 126.4L375.8 127.8L376.7 129.3L377.5 130.8L378.2 132.3L378.9 133.9L379.4 135.6L379.9 137.2L380.4 138.9L380.8 140.6L381.3 142.2L381.8 143.9L382.4 145.5L383.0 147.0L383.8 148.5L384.7 149.9L385.7 151.3L386.9 152.6L388.0 153.8L389.3 155.0L390.6 156.2L391.8 157.4L393.1 158.6L394.3 159.9L395.4 161.1L396.4 162.5L397.3 163.9L398.2 165.3L398.9 166.8L399.6 168.3L400.2 169.9L400.8 171.5L401.3 173.1L401.8 174.7L402.3 176.4L402.8 178.0L403.3 179.6L403.8 181.3L404.3 182.9L404.7 184.6L405.2 186.2L405.7 187.9L406.2 189.5L406.6 191.2L407.1 192.8L407.5 194.5L407.9 196.1L408.3 197.8L408.7 199.5L409.0 201.1L409.4 202.8L409.7 204.5L410.1 206.1L410.4 207.8L410.7 209.5L411.0 211.2L411.3 212.8L411.6 214.5L411.9 216.2L412.2 217.9L412.5 219.6L412.7 221.3L413.0 222.9L413.3 224.6L413.5 226.3L413.8 228.0L414.0 229.7L414.3 231.4L414.5 233.1L414.7 234.8L414.9 236.5L415.2 238.2L415.4 239.9L415.6 241.5L415.8 243.2L416.0 244.9L416.2 246.6L416.4 248.3L416.6 250.0L416.8 251.7L417.0 253.4L417.1 255.1L417.3 256.8L417.5 258.5L417.7 260.2L417.9 261.9L418.0 263.6L418.2 265.3L418.4 267.0L418.5 268.7L418.7 270.4L418.8 272.1L419.0 273.8L419.1 275.5L419.3 277.2L419.5 278.9L419.6 280.7L419.8 282.4L419.9 284.1L420.1 285.8L420.2 287.5L420.4 289.2L420.5 290.9L420.6 292.6L420.8 294.3L420.9 296.0L421.1 297.7L421.2 299.4L421.4 301.1L421.5 302.8L421.7 304.5L421.8 306.2L422.0 307.9L422.1 309.6L422.3 311.3L422.4 313.0L422.6 314.7L422.7 316.4L422.9 318.1L423.1 319.8L423.2 321.5L423.4 323.2L423.6 324.9L423.7 326.6L423.9 328.3L424.1 330.0" fill="none" stroke="#ec6b4a" stroke-width="1.9" stroke-linecap="butt" stroke-linejoin="round"/>
<path d="M60.0 172.5L61.8 172.0L63.6 171.6L65.4 171.1L67.3 170.7L69.1 170.2L70.9 169.8L72.7 169.3L74.5 168.8L76.4 168.3L78.2 167.9L80.0 167.4L81.8 166.9L83.6 166.4L85.4 165.8L87.2 165.3L89.0 164.8L90.9 164.3L92.7 163.8L94.5 163.2L96.3 162.7L98.1 162.1L99.9 161.6L101.7 161.1L103.5 160.5L105.3 160.0L107.1 159.4L108.9 158.8L110.7 158.3L112.5 157.7L114.3 157.2L116.1 156.6L117.9 156.0L119.7 155.5L121.5 154.9L123.3 154.3L125.1 153.8L126.9 153.2L128.7 152.6L130.5 152.1L132.3 151.5L134.1 150.9L135.9 150.4L137.7 149.8L139.5 149.2L141.3 148.7L143.1 148.1L145.0 147.5L146.8 147.0L148.6 146.4L150.4 145.9L152.2 145.3L154.0 144.8L155.8 144.2L157.6 143.7L159.4 143.1L161.2 142.6L163.0 142.0L164.8 141.5L166.6 141.0L168.4 140.5L170.3 139.9L172.1 139.4L173.9 138.9L175.7 138.4L177.5 137.9L179.3 137.4L181.2 136.9L183.0 136.5L184.8 136.0L186.6 135.5L188.4 135.1L190.3 134.6L192.1 134.1L193.9 133.7L195.7 133.3L197.6 132.8L199.4 132.4L201.2 132.0L203.1 131.6L204.9 131.1L206.7 130.7L208.6 130.3L210.4 129.9L212.2 129.5L214.1 129.1L215.9 128.7L217.8 128.3L219.6 127.9L221.4 127.5L223.3 127.1L225.1 126.7L226.9 126.3L228.8 125.9L230.6 125.5L232.4 125.1L234.3 124.7L236.1 124.3L237.9 123.9L239.8 123.5L241.6 123.0L243.4 122.6L245.3 122.2L247.1 121.7L248.9 121.3L250.8 120.9L252.6 120.4L254.4 120.0L256.2 119.5L258.1 119.0L259.9 118.5L261.7 118.0L263.5 117.5L265.3 117.0L267.1 116.5L268.9 116.0L270.8 115.5L272.6 114.9L274.4 114.4L276.2 113.8L278.0 113.2L279.8 112.6L281.6 112.0L283.3 111.4L285.1 110.8L286.9 110.2L288.7 109.5L290.5 108.8L292.3 108.1L294.0 107.5L295.8 106.8L297.6 106.0L299.4 105.3L301.1 104.6L302.9 103.9L304.7 103.2L306.5 102.5L308.2 101.7L310.0 101.0L311.8 100.3L313.6 99.7L315.4 99.0L317.2 98.3L319.0 97.7L320.8 97.1L322.6 96.5L324.4 95.9L326.2 95.3L328.0 94.8L329.9 94.3L331.7 93.8L333.6 93.4L335.4 93.0L337.3 92.7L339.1 92.4L340.9 92.2L342.8 92.1L344.6 92.1L346.4 92.2L348.2 92.3L350.0 92.6L351.7 93.0L353.5 93.4L355.2 94.0L356.9 94.7L358.6 95.4L360.3 96.2L361.9 97.1L363.5 98.0L365.1 99.1L366.6 100.1L368.1 101.3L369.6 102.4L371.0 103.6L372.4 104.9L373.8 106.1L375.1 107.4L376.4 108.8L377.7 110.1L378.9 111.5L380.1 112.9L381.2 114.4L382.3 115.8L383.4 117.3L384.5 118.8L385.5 120.4L386.5 121.9L387.5 123.5L388.4 125.1L389.3 126.8L390.2 128.4L391.1 130.1L391.9 131.7L392.8 133.4L393.5 135.2L394.3 136.9L395.1 138.6L395.8 140.4L396.5 142.1L397.2 143.9L397.8 145.7L398.5 147.5L399.1 149.3L399.7 151.1L400.3 153.0L400.9 154.8L401.4 156.6L402.0 158.5L402.5 160.3L403.1 162.2L403.6 164.0L404.1 165.9L404.6 167.7L405.0 169.6L405.5 171.5L406.0 173.3L406.4 175.2L406.9 177.0L407.3 178.9L407.7 180.7L408.2 182.6L408.6 184.4L409.0 186.3L409.4 188.1L409.8 190.0L410.1 191.8L410.5 193.7L410.9 195.5L411.2 197.4L411.6 199.2L411.9 201.1L412.3 202.9L412.6 204.8L412.9 206.6L413.2 208.4L413.5 210.3L413.9 212.1L414.1 214.0L414.4 215.8L414.7 217.7L415.0 219.5L415.3 221.4L415.5 223.2L415.8 225.1L416.1 226.9L416.3 228.8L416.6 230.6L416.8 232.5L417.0 234.3L417.3 236.2L417.5 238.0L417.7 239.9L417.9 241.7L418.1 243.6L418.3 245.4L418.5 247.3L418.7 249.2L418.9 251.0L419.1 252.9L419.3 254.7L419.5 256.6L419.7 258.5L419.9 260.3L420.0 262.2L420.2 264.0L420.4 265.9L420.5 267.8L420.7 269.6L420.9 271.5L421.0 273.4L421.2 275.2L421.3 277.1L421.5 279.0L421.6 280.9L421.8 282.7L421.9 284.6L422.1 286.5L422.2 288.4L422.3 290.2L422.5 292.1L422.6 294.0L422.8 295.9L422.9 297.8L423.0 299.7L423.2 301.6L423.3 303.5L423.4 305.3L423.6 307.2L423.7 309.1L423.8 311.0L424.0 312.9L424.1 314.8L424.2 316.7L424.4 318.7L424.5 320.6L424.6 322.5L424.8 324.4L424.9 326.3L425.0 328.2L425.2 330.1" fill="none" stroke="#0d0887" stroke-width="1.85" stroke-dasharray="1.85 2.13" stroke-linecap="butt" stroke-linejoin="round"/>
<path d="M60.1 162.2L61.6 161.7L63.1 161.2L64.7 160.8L66.2 160.3L67.8 159.8L69.3 159.3L70.8 158.9L72.4 158.4L73.9 157.9L75.5 157.5L77.0 157.0L78.6 156.6L80.1 156.1L81.7 155.7L83.3 155.2L84.8 154.8L86.4 154.4L87.9 153.9L89.5 153.5L91.1 153.1L92.6 152.7L94.2 152.2L95.7 151.8L97.3 151.4L98.9 151.0L100.4 150.6L102.0 150.2L103.6 149.8L105.2 149.4L106.7 149.0L108.3 148.6L109.9 148.2L111.4 147.8L113.0 147.4L114.6 147.0L116.2 146.6L117.7 146.3L119.3 145.9L120.9 145.5L122.5 145.1L124.0 144.7L125.6 144.4L127.2 144.0L128.7 143.6L130.3 143.3L131.9 142.9L133.5 142.5L135.0 142.2L136.6 141.8L138.2 141.4L139.8 141.1L141.3 140.7L142.9 140.4L144.5 140.0L146.0 139.7L147.6 139.3L149.2 139.0L150.7 138.6L152.3 138.2L153.9 137.9L155.4 137.5L157.0 137.2L158.6 136.8L160.1 136.5L161.7 136.1L163.2 135.8L164.8 135.4L166.4 135.1L167.9 134.7L169.5 134.3L171.0 134.0L172.6 133.6L174.2 133.2L175.7 132.9L177.3 132.5L178.8 132.1L180.4 131.7L181.9 131.3L183.5 130.9L185.1 130.5L186.6 130.1L188.2 129.6L189.7 129.2L191.3 128.8L192.8 128.3L194.4 127.8L196.0 127.4L197.5 126.9L199.1 126.4L200.6 125.9L202.2 125.4L203.8 124.9L205.3 124.4L206.9 123.8L208.4 123.3L210.0 122.7L211.6 122.1L213.1 121.6L214.7 121.0L216.3 120.4L217.8 119.7L219.4 119.1L221.0 118.5L222.5 117.9L224.1 117.3L225.7 116.6L227.2 116.0L228.8 115.4L230.4 114.8L231.9 114.2L233.5 113.6L235.1 113.0L236.7 112.4L238.2 111.8L239.8 111.3L241.4 110.7L242.9 110.2L244.5 109.7L246.1 109.2L247.6 108.8L249.2 108.3L250.8 107.9L252.4 107.5L253.9 107.1L255.5 106.8L257.1 106.4L258.6 106.2L260.2 105.9L261.8 105.7L263.3 105.5L264.9 105.3L266.4 105.2L268.0 105.2L269.6 105.1L271.1 105.1L272.7 105.2L274.2 105.2L275.8 105.4L277.3 105.5L278.9 105.7L280.4 106.0L281.9 106.2L283.5 106.6L285.0 106.9L286.5 107.3L288.0 107.7L289.5 108.2L291.0 108.7L292.4 109.2L293.9 109.8L295.3 110.4L296.8 111.0L298.2 111.7L299.6 112.4L301.0 113.2L302.4 114.0L303.7 114.8L305.1 115.6L306.4 116.5L307.7 117.4L309.0 118.4L310.3 119.4L311.5 120.4L312.8 121.4L314.0 122.5L315.2 123.6L316.4 124.7L317.6 125.8L318.7 127.0L319.8 128.2L321.0 129.4L322.1 130.6L323.1 131.8L324.2 133.0L325.3 134.3L326.3 135.5L327.3 136.8L328.3 138.1L329.3 139.4L330.3 140.6L331.3 141.9L332.2 143.2L333.2 144.6L334.1 145.9L335.0 147.2L335.9 148.5L336.8 149.9L337.6 151.2L338.5 152.6L339.4 153.9L340.2 155.3L341.0 156.7L341.8 158.1L342.6 159.4L343.4 160.8L344.2 162.2L344.9 163.6L345.7 165.1L346.4 166.5L347.2 167.9L347.9 169.3L348.6 170.8L349.3 172.2L350.0 173.7L350.7 175.1L351.3 176.6L352.0 178.0L352.7 179.5L353.3 181.0L353.9 182.5L354.6 183.9L355.2 185.4L355.8 186.9L356.4 188.4L357.0 189.9L357.5 191.4L358.1 192.9L358.7 194.4L359.3 196.0L359.8 197.5L360.4 199.0L360.9 200.5L361.4 202.0L362.0 203.6L362.5 205.1L363.0 206.7L363.5 208.2L364.0 209.7L364.5 211.3L365.0 212.8L365.5 214.4L366.0 215.9L366.4 217.5L366.9 219.1L367.4 220.6L367.8 222.2L368.3 223.8L368.7 225.3L369.2 226.9L369.6 228.5L370.1 230.0L370.5 231.6L371.0 233.2L371.4 234.7L371.8 236.3L372.3 237.9L372.7 239.5L373.1 241.0L373.5 242.6L374.0 244.2L374.4 245.8L374.8 247.4L375.2 248.9L375.6 250.5L376.0 252.1L376.5 253.7L376.9 255.3L377.3 256.8L377.7 258.4L378.1 260.0L378.5 261.6L378.9 263.1L379.4 264.7L379.8 266.3L380.2 267.8L380.6 269.4L381.0 271.0L381.4 272.5L381.9 274.1L382.3 275.7L382.7 277.2L383.1 278.8L383.6 280.3L384.0 281.9L384.4 283.4L384.9 285.0L385.3 286.5L385.7 288.1L386.2 289.6L386.6 291.2L387.1 292.7L387.5 294.2L388.0 295.8L388.5 297.3L388.9 298.8L389.4 300.3L389.9 301.8L390.4 303.3L390.9 304.8L391.4 306.3L391.9 307.8L392.4 309.3L392.9 310.8L393.4 312.3L393.9 313.8L394.5 315.3L395.0 316.7L395.5 318.2L396.1 319.7" fill="none" stroke="#be3884" stroke-width="1.85" stroke-dasharray="1.85 2.13" stroke-linecap="butt" stroke-linejoin="round"/>
<path d="M60.2 233.5L61.6 233.0L63.0 232.5L64.3 232.0L65.7 231.5L67.1 231.0L68.5 230.6L69.9 230.1L71.3 229.6L72.7 229.2L74.1 228.7L75.5 228.3L76.9 227.8L78.3 227.4L79.7 226.9L81.1 226.5L82.5 226.1L83.9 225.6L85.3 225.2L86.7 224.8L88.2 224.4L89.6 223.9L91.0 223.5L92.4 223.1L93.8 222.7L95.3 222.3L96.7 221.9L98.1 221.5L99.5 221.1L100.9 220.7L102.4 220.4L103.8 220.0L105.2 219.6L106.7 219.2L108.1 218.8L109.5 218.4L111.0 218.1L112.4 217.7L113.8 217.3L115.3 217.0L116.7 216.6L118.1 216.2L119.6 215.9L121.0 215.5L122.4 215.2L123.9 214.8L125.3 214.5L126.8 214.1L128.2 213.8L129.6 213.4L131.1 213.1L132.5 212.7L134.0 212.4L135.4 212.0L136.9 211.7L138.3 211.4L139.7 211.0L141.2 210.7L142.6 210.3L144.1 210.0L145.5 209.7L146.9 209.3L148.4 209.0L149.8 208.7L151.3 208.3L152.7 208.0L154.2 207.7L155.6 207.3L157.0 207.0L158.5 206.7L159.9 206.3L161.4 206.0L162.8 205.7L164.2 205.3L165.7 205.0L167.1 204.7L168.5 204.3L170.0 204.0L171.4 203.7L172.8 203.3L174.3 203.0L175.7 202.6L177.1 202.3L178.6 202.0L180.0 201.6L181.4 201.3L182.9 201.0L184.3 200.6L185.7 200.3L187.1 199.9L188.6 199.6L190.0 199.2L191.4 198.9L192.8 198.5L194.2 198.2L195.6 197.8L197.1 197.5L198.5 197.1L199.9 196.8L201.3 196.4L202.7 196.1L204.1 195.7L205.6 195.4L207.0 195.0L208.4 194.6L209.8 194.3L211.2 193.9L212.6 193.6L214.0 193.2L215.5 192.8L216.9 192.5L218.3 192.1L219.7 191.7L221.1 191.4L222.5 191.0L224.0 190.6L225.4 190.3L226.8 189.9L228.2 189.5L229.6 189.2L231.1 188.8L232.5 188.4L233.9 188.1L235.4 187.7L236.8 187.3L238.2 187.0L239.6 186.6L241.1 186.2L242.5 185.9L244.0 185.5L245.4 185.1L246.8 184.8L248.3 184.4L249.7 184.0L251.2 183.6L252.6 183.3L254.1 182.9L255.6 182.5L257.0 182.2L258.5 181.8L259.9 181.4L261.4 181.1L262.9 180.7L264.4 180.4L265.8 180.0L267.3 179.6L268.8 179.3L270.3 179.0L271.7 178.6L273.2 178.3L274.7 178.0L276.2 177.7L277.6 177.5L279.1 177.2L280.6 177.0L282.1 176.7L283.5 176.5L285.0 176.4L286.5 176.2L287.9 176.1L289.4 175.9L290.8 175.9L292.3 175.8L293.7 175.8L295.1 175.8L296.6 175.8L298.0 175.8L299.4 175.9L300.8 176.1L302.2 176.2L303.6 176.4L305.0 176.7L306.3 176.9L307.7 177.3L309.1 177.6L310.4 178.0L311.7 178.5L313.1 178.9L314.4 179.4L315.7 180.0L317.0 180.6L318.3 181.2L319.6 181.8L320.9 182.5L322.2 183.1L323.5 183.9L324.7 184.6L326.0 185.4L327.3 186.1L328.5 186.9L329.8 187.8L331.0 188.6L332.3 189.4L333.5 190.3L334.8 191.2L336.0 192.1L337.2 193.0L338.5 193.9L339.7 194.8L341.0 195.7L342.2 196.6L343.4 197.5L344.6 198.5L345.9 199.4L347.1 200.3L348.3 201.2L349.6 202.2L350.8 203.1L352.1 204.0L353.3 204.9L354.5 205.8L355.8 206.7L357.0 207.6L358.2 208.5L359.4 209.4L360.7 210.3L361.9 211.2L363.1 212.1L364.3 213.0L365.4 213.9L366.6 214.8L367.8 215.8L368.9 216.7L370.1 217.6L371.2 218.6L372.3 219.5L373.4 220.5L374.4 221.5L375.5 222.5L376.5 223.5L377.5 224.5L378.5 225.6L379.5 226.6L380.4 227.7L381.4 228.8L382.3 229.9L383.1 231.1L384.0 232.2L384.8 233.4L385.6 234.6L386.4 235.8L387.1 237.0L387.9 238.3L388.6 239.5L389.3 240.8L390.0 242.1L390.6 243.4L391.2 244.7L391.9 246.0L392.5 247.3L393.0 248.7L393.6 250.0L394.1 251.4L394.6 252.8L395.1 254.2L395.6 255.6L396.1 257.0L396.5 258.4L397.0 259.8L397.4 261.3L397.8 262.7L398.2 264.1L398.5 265.6L398.9 267.1L399.2 268.5L399.6 270.0L399.9 271.5L400.2 273.0L400.5 274.4L400.7 275.9L401.0 277.4L401.2 278.9L401.5 280.4L401.7 281.9L401.9 283.4L402.1 284.9L402.3 286.4L402.5 287.9L402.7 289.4L402.9 290.9L403.0 292.4L403.2 293.9L403.3 295.4L403.5 296.9L403.6 298.4L403.7 299.8L403.8 301.3L403.9 302.8L404.0 304.2L404.1 305.7L404.2 307.2L404.3 308.6L404.4 310.0L404.5 311.5L404.5 312.9L404.6 314.3L404.7 315.7L404.7 317.1L404.8 318.5L404.9 319.9" fill="none" stroke="#fdb62b" stroke-width="1.85" stroke-dasharray="1.85 2.13" stroke-linecap="butt" stroke-linejoin="round"/>
<path d="M60.0 188.0L61.6 187.6L63.1 187.2L64.6 186.8L66.1 186.4L67.7 186.0L69.2 185.6L70.7 185.2L72.2 184.8L73.8 184.4L75.3 184.0L76.8 183.6L78.3 183.2L79.9 182.8L81.4 182.4L82.9 182.0L84.5 181.5L86.0 181.1L87.5 180.7L89.1 180.3L90.6 179.9L92.1 179.5L93.7 179.1L95.2 178.7L96.8 178.3L98.3 177.9L99.8 177.5L101.4 177.1L102.9 176.7L104.5 176.3L106.0 175.9L107.5 175.5L109.1 175.1L110.6 174.7L112.2 174.3L113.7 173.9L115.2 173.5L116.8 173.1L118.3 172.7L119.9 172.3L121.4 171.9L123.0 171.5L124.5 171.1L126.0 170.8L127.6 170.4L129.1 170.0L130.7 169.6L132.2 169.2L133.8 168.8L135.3 168.4L136.9 168.0L138.4 167.6L140.0 167.2L141.5 166.9L143.0 166.5L144.6 166.1L146.1 165.7L147.7 165.3L149.2 165.0L150.8 164.6L152.3 164.2L153.9 163.8L155.4 163.4L156.9 163.1L158.5 162.7L160.0 162.3L161.6 162.0L163.1 161.6L164.7 161.2L166.2 160.8L167.8 160.5L169.3 160.1L170.8 159.8L172.4 159.4L173.9 159.0L175.5 158.7L177.0 158.3L178.5 158.0L180.1 157.6L181.6 157.3L183.2 156.9L184.7 156.5L186.2 156.2L187.8 155.9L189.3 155.5L190.8 155.2L192.4 154.8L193.9 154.5L195.5 154.1L197.0 153.8L198.5 153.4L200.1 153.1L201.6 152.7L203.1 152.4L204.7 152.0L206.2 151.7L207.7 151.3L209.2 150.9L210.8 150.6L212.3 150.2L213.8 149.8L215.3 149.4L216.9 149.0L218.4 148.6L219.9 148.2L221.4 147.8L223.0 147.3L224.5 146.9L226.0 146.4L227.5 146.0L229.0 145.5L230.5 145.0L232.1 144.5L233.6 144.0L235.1 143.5L236.6 142.9L238.1 142.4L239.6 141.8L241.1 141.2L242.6 140.6L244.1 140.0L245.6 139.4L247.1 138.8L248.6 138.1L250.1 137.5L251.6 136.8L253.1 136.2L254.7 135.6L256.2 135.0L257.7 134.4L259.2 133.9L260.7 133.4L262.3 132.9L263.8 132.5L265.4 132.1L266.9 131.8L268.5 131.5L270.0 131.2L271.6 131.0L273.1 130.8L274.7 130.7L276.3 130.5L277.8 130.5L279.4 130.4L281.0 130.4L282.5 130.4L284.1 130.5L285.7 130.6L287.2 130.7L288.8 130.9L290.4 131.1L291.9 131.3L293.5 131.6L295.0 131.9L296.5 132.2L298.1 132.5L299.6 132.9L301.1 133.3L302.6 133.8L304.1 134.3L305.6 134.8L307.1 135.3L308.6 135.9L310.1 136.5L311.5 137.1L313.0 137.7L314.4 138.4L315.8 139.1L317.2 139.8L318.6 140.5L320.0 141.3L321.4 142.1L322.7 142.9L324.1 143.8L325.4 144.6L326.7 145.5L328.0 146.5L329.3 147.4L330.5 148.3L331.8 149.3L333.0 150.3L334.2 151.3L335.3 152.4L336.5 153.4L337.6 154.5L338.8 155.6L339.9 156.7L341.0 157.8L342.0 159.0L343.1 160.2L344.1 161.3L345.1 162.5L346.1 163.7L347.1 165.0L348.1 166.2L349.1 167.5L350.0 168.7L350.9 170.0L351.9 171.3L352.8 172.6L353.7 173.9L354.6 175.2L355.4 176.6L356.3 177.9L357.2 179.3L358.0 180.6L358.8 182.0L359.7 183.4L360.5 184.7L361.3 186.1L362.1 187.5L362.9 188.9L363.7 190.3L364.5 191.7L365.2 193.1L366.0 194.6L366.8 196.0L367.5 197.4L368.3 198.8L369.1 200.2L369.8 201.7L370.6 203.1L371.3 204.5L372.0 205.9L372.8 207.4L373.5 208.8L374.3 210.2L375.0 211.6L375.8 213.0L376.5 214.4L377.2 215.8L378.0 217.2L378.7 218.6L379.5 220.0L380.2 221.4L380.9 222.8L381.7 224.2L382.4 225.6L383.1 227.0L383.9 228.4L384.6 229.8L385.3 231.2L386.0 232.6L386.7 234.0L387.4 235.4L388.0 236.8L388.7 238.2L389.4 239.6L390.0 241.0L390.6 242.4L391.2 243.8L391.8 245.3L392.4 246.7L393.0 248.2L393.6 249.6L394.1 251.1L394.6 252.6L395.1 254.1L395.6 255.6L396.1 257.1L396.5 258.6L396.9 260.1L397.4 261.6L397.8 263.2L398.1 264.7L398.5 266.3L398.9 267.8L399.2 269.4L399.5 270.9L399.9 272.5L400.2 274.1L400.4 275.7L400.7 277.2L401.0 278.8L401.2 280.4L401.5 282.0L401.7 283.6L401.9 285.2L402.1 286.8L402.3 288.4L402.5 290.0L402.7 291.6L402.9 293.2L403.1 294.8L403.2 296.4L403.4 298.0L403.5 299.6L403.7 301.2L403.8 302.8L403.9 304.3L404.0 305.9L404.2 307.5L404.3 309.1L404.4 310.7L404.5 312.2L404.6 313.8L404.7 315.3L404.8 316.9L404.9 318.4L405.0 320.0" fill="none" stroke="#ec6b4a" stroke-width="1.85" stroke-dasharray="1.85 2.13" stroke-linecap="butt" stroke-linejoin="round"/>
</g>
<rect x="72.5" y="11.3" width="377.40" height="284.20" fill="none" stroke="#000" stroke-width="1.0"/>
<line x1="72.50" y1="295.5" x2="72.50" y2="299.0" stroke="#000" stroke-width="0.8"/>
<line x1="105.91" y1="295.5" x2="105.91" y2="297.5" stroke="#000" stroke-width="0.8"/>
<line x1="125.46" y1="295.5" x2="125.46" y2="297.5" stroke="#000" stroke-width="0.8"/>
<line x1="139.33" y1="295.5" x2="139.33" y2="297.5" stroke="#000" stroke-width="0.8"/>
<line x1="150.09" y1="295.5" x2="150.09" y2="297.5" stroke="#000" stroke-width="0.8"/>
<line x1="158.87" y1="295.5" x2="158.87" y2="297.5" stroke="#000" stroke-width="0.8"/>
<line x1="166.31" y1="295.5" x2="166.31" y2="297.5" stroke="#000" stroke-width="0.8"/>
<line x1="172.74" y1="295.5" x2="172.74" y2="297.5" stroke="#000" stroke-width="0.8"/>
<line x1="178.42" y1="295.5" x2="178.42" y2="297.5" stroke="#000" stroke-width="0.8"/>
<line x1="183.50" y1="295.5" x2="183.50" y2="299.0" stroke="#000" stroke-width="0.8"/>
<line x1="216.91" y1="295.5" x2="216.91" y2="297.5" stroke="#000" stroke-width="0.8"/>
<line x1="236.46" y1="295.5" x2="236.46" y2="297.5" stroke="#000" stroke-width="0.8"/>
<line x1="250.33" y1="295.5" x2="250.33" y2="297.5" stroke="#000" stroke-width="0.8"/>
<line x1="261.09" y1="295.5" x2="261.09" y2="297.5" stroke="#000" stroke-width="0.8"/>
<line x1="269.87" y1="295.5" x2="269.87" y2="297.5" stroke="#000" stroke-width="0.8"/>
<line x1="277.31" y1="295.5" x2="277.31" y2="297.5" stroke="#000" stroke-width="0.8"/>
<line x1="283.74" y1="295.5" x2="283.74" y2="297.5" stroke="#000" stroke-width="0.8"/>
<line x1="289.42" y1="295.5" x2="289.42" y2="297.5" stroke="#000" stroke-width="0.8"/>
<line x1="294.50" y1="295.5" x2="294.50" y2="299.0" stroke="#000" stroke-width="0.8"/>
<line x1="327.91" y1="295.5" x2="327.91" y2="297.5" stroke="#000" stroke-width="0.8"/>
<line x1="347.46" y1="295.5" x2="347.46" y2="297.5" stroke="#000" stroke-width="0.8"/>
<line x1="361.33" y1="295.5" x2="361.33" y2="297.5" stroke="#000" stroke-width="0.8"/>
<line x1="372.09" y1="295.5" x2="372.09" y2="297.5" stroke="#000" stroke-width="0.8"/>
<line x1="380.87" y1="295.5" x2="380.87" y2="297.5" stroke="#000" stroke-width="0.8"/>
<line x1="388.31" y1="295.5" x2="388.31" y2="297.5" stroke="#000" stroke-width="0.8"/>
<line x1="394.74" y1="295.5" x2="394.74" y2="297.5" stroke="#000" stroke-width="0.8"/>
<line x1="400.42" y1="295.5" x2="400.42" y2="297.5" stroke="#000" stroke-width="0.8"/>
<line x1="405.50" y1="295.5" x2="405.50" y2="299.0" stroke="#000" stroke-width="0.8"/>
<line x1="438.91" y1="295.5" x2="438.91" y2="297.5" stroke="#000" stroke-width="0.8"/>
<line x1="69.0" y1="295.50" x2="72.5" y2="295.50" stroke="#000" stroke-width="0.8"/>
<line x1="70.5" y1="279.85" x2="72.5" y2="279.85" stroke="#000" stroke-width="0.8"/>
<line x1="70.5" y1="270.69" x2="72.5" y2="270.69" stroke="#000" stroke-width="0.8"/>
<line x1="70.5" y1="264.19" x2="72.5" y2="264.19" stroke="#000" stroke-width="0.8"/>
<line x1="70.5" y1="259.15" x2="72.5" y2="259.15" stroke="#000" stroke-width="0.8"/>
<line x1="70.5" y1="255.04" x2="72.5" y2="255.04" stroke="#000" stroke-width="0.8"/>
<line x1="70.5" y1="251.55" x2="72.5" y2="251.55" stroke="#000" stroke-width="0.8"/>
<line x1="70.5" y1="248.54" x2="72.5" y2="248.54" stroke="#000" stroke-width="0.8"/>
<line x1="70.5" y1="245.88" x2="72.5" y2="245.88" stroke="#000" stroke-width="0.8"/>
<line x1="69.0" y1="243.50" x2="72.5" y2="243.50" stroke="#000" stroke-width="0.8"/>
<line x1="70.5" y1="227.85" x2="72.5" y2="227.85" stroke="#000" stroke-width="0.8"/>
<line x1="70.5" y1="218.69" x2="72.5" y2="218.69" stroke="#000" stroke-width="0.8"/>
<line x1="70.5" y1="212.19" x2="72.5" y2="212.19" stroke="#000" stroke-width="0.8"/>
<line x1="70.5" y1="207.15" x2="72.5" y2="207.15" stroke="#000" stroke-width="0.8"/>
<line x1="70.5" y1="203.04" x2="72.5" y2="203.04" stroke="#000" stroke-width="0.8"/>
<line x1="70.5" y1="199.55" x2="72.5" y2="199.55" stroke="#000" stroke-width="0.8"/>
<line x1="70.5" y1="196.54" x2="72.5" y2="196.54" stroke="#000" stroke-width="0.8"/>
<line x1="70.5" y1="193.88" x2="72.5" y2="193.88" stroke="#000" stroke-width="0.8"/>
<line x1="69.0" y1="191.50" x2="72.5" y2="191.50" stroke="#000" stroke-width="0.8"/>
<line x1="70.5" y1="175.85" x2="72.5" y2="175.85" stroke="#000" stroke-width="0.8"/>
<line x1="70.5" y1="166.69" x2="72.5" y2="166.69" stroke="#000" stroke-width="0.8"/>
<line x1="70.5" y1="160.19" x2="72.5" y2="160.19" stroke="#000" stroke-width="0.8"/>
<line x1="70.5" y1="155.15" x2="72.5" y2="155.15" stroke="#000" stroke-width="0.8"/>
<line x1="70.5" y1="151.04" x2="72.5" y2="151.04" stroke="#000" stroke-width="0.8"/>
<line x1="70.5" y1="147.55" x2="72.5" y2="147.55" stroke="#000" stroke-width="0.8"/>
<line x1="70.5" y1="144.54" x2="72.5" y2="144.54" stroke="#000" stroke-width="0.8"/>
<line x1="70.5" y1="141.88" x2="72.5" y2="141.88" stroke="#000" stroke-width="0.8"/>
<line x1="69.0" y1="139.50" x2="72.5" y2="139.50" stroke="#000" stroke-width="0.8"/>
<line x1="70.5" y1="123.85" x2="72.5" y2="123.85" stroke="#000" stroke-width="0.8"/>
<line x1="70.5" y1="114.69" x2="72.5" y2="114.69" stroke="#000" stroke-width="0.8"/>
<line x1="70.5" y1="108.19" x2="72.5" y2="108.19" stroke="#000" stroke-width="0.8"/>
<line x1="70.5" y1="103.15" x2="72.5" y2="103.15" stroke="#000" stroke-width="0.8"/>
<line x1="70.5" y1="99.04" x2="72.5" y2="99.04" stroke="#000" stroke-width="0.8"/>
<line x1="70.5" y1="95.55" x2="72.5" y2="95.55" stroke="#000" stroke-width="0.8"/>
<line x1="70.5" y1="92.54" x2="72.5" y2="92.54" stroke="#000" stroke-width="0.8"/>
<line x1="70.5" y1="89.88" x2="72.5" y2="89.88" stroke="#000" stroke-width="0.8"/>
<line x1="69.0" y1="87.50" x2="72.5" y2="87.50" stroke="#000" stroke-width="0.8"/>
<line x1="70.5" y1="71.85" x2="72.5" y2="71.85" stroke="#000" stroke-width="0.8"/>
<line x1="70.5" y1="62.69" x2="72.5" y2="62.69" stroke="#000" stroke-width="0.8"/>
<line x1="70.5" y1="56.19" x2="72.5" y2="56.19" stroke="#000" stroke-width="0.8"/>
<line x1="70.5" y1="51.15" x2="72.5" y2="51.15" stroke="#000" stroke-width="0.8"/>
<line x1="70.5" y1="47.04" x2="72.5" y2="47.04" stroke="#000" stroke-width="0.8"/>
<line x1="70.5" y1="43.55" x2="72.5" y2="43.55" stroke="#000" stroke-width="0.8"/>
<line x1="70.5" y1="40.54" x2="72.5" y2="40.54" stroke="#000" stroke-width="0.8"/>
<line x1="70.5" y1="37.88" x2="72.5" y2="37.88" stroke="#000" stroke-width="0.8"/>
<line x1="69.0" y1="35.50" x2="72.5" y2="35.50" stroke="#000" stroke-width="0.8"/>
<line x1="70.5" y1="19.85" x2="72.5" y2="19.85" stroke="#000" stroke-width="0.8"/>
<line x1="70.5" y1="10.69" x2="72.5" y2="10.69" stroke="#000" stroke-width="0.8"/>

<text x="58.99" y="35.80" font-family="Liberation Sans, sans-serif" font-size="9.0">8</text>
<rect x="52.98" y="32.90" width="4.5" height="0.8" fill="#000"/>
<text x="36.71" y="39.60" font-family="Liberation Sans, sans-serif" font-size="13.2">10</text>
<text x="59.02" y="87.80" font-family="Liberation Sans, sans-serif" font-size="9.0">9</text>
<rect x="53.04" y="84.90" width="4.5" height="0.8" fill="#000"/>
<text x="36.78" y="91.60" font-family="Liberation Sans, sans-serif" font-size="13.2">10</text>
<text x="53.94" y="139.70" font-family="Liberation Sans, sans-serif" font-size="9.0">10</text>
<rect x="48.23" y="136.80" width="4.5" height="0.8" fill="#000"/>
<text x="31.96" y="143.50" font-family="Liberation Sans, sans-serif" font-size="13.2">10</text>
<text x="54.03" y="191.70" font-family="Liberation Sans, sans-serif" font-size="9.0">11</text>
<rect x="48.31" y="188.80" width="4.5" height="0.8" fill="#000"/>
<text x="32.05" y="195.50" font-family="Liberation Sans, sans-serif" font-size="13.2">10</text>
<text x="54.04" y="243.60" font-family="Liberation Sans, sans-serif" font-size="9.0">12</text>
<rect x="48.33" y="240.70" width="4.5" height="0.8" fill="#000"/>
<text x="32.06" y="247.40" font-family="Liberation Sans, sans-serif" font-size="13.2">10</text>
<text x="53.98" y="295.60" font-family="Liberation Sans, sans-serif" font-size="9.0">13</text>
<rect x="48.27" y="292.70" width="4.5" height="0.8" fill="#000"/>
<text x="32.00" y="299.40" font-family="Liberation Sans, sans-serif" font-size="13.2">10</text>
<text x="61.89" y="311.50" font-family="Liberation Sans, sans-serif" font-size="13.2">10</text>
<text x="77.55" y="306.90" font-family="Liberation Sans, sans-serif" font-size="9.0">0</text>
<text x="172.89" y="311.50" font-family="Liberation Sans, sans-serif" font-size="13.2">10</text>
<text x="188.21" y="306.90" font-family="Liberation Sans, sans-serif" font-size="9.0">1</text>
<text x="283.89" y="311.50" font-family="Liberation Sans, sans-serif" font-size="13.2">10</text>
<text x="299.45" y="306.90" font-family="Liberation Sans, sans-serif" font-size="9.0">2</text>
<text x="394.89" y="311.50" font-family="Liberation Sans, sans-serif" font-size="13.2">10</text>
<text x="410.56" y="306.90" font-family="Liberation Sans, sans-serif" font-size="9.0">3</text>
<text x="244.59" y="326.70" font-family="Liberation Sans, sans-serif" font-size="12.2" font-style="italic">f</text>
<text x="252.94" y="326.7" font-family="Liberation Sans, sans-serif" font-size="12.0" textLength="23.81" lengthAdjust="spacingAndGlyphs">[Hz]</text>
<g transform="translate(23.1,166.1) rotate(-90)"><text x="0" y="0" font-family="Liberation Sans, sans-serif" font-size="12">Ω<tspan font-size="8.6" font-style="italic" dy="1.7">gw</tspan></text></g>

<rect x="78.5" y="215.6" width="181.6" height="73.6" rx="2.5" ry="2.5" fill="#fff" fill-opacity="0.8" stroke="#cccccc" stroke-width="0.8"/>
<line x1="82" y1="225.2" x2="107.7" y2="225.2" stroke="#0d0887" stroke-width="1.5"/>
<text x="117.09" y="228.80" font-family="Liberation Sans, sans-serif" font-size="12.3" textLength="27.20" lengthAdjust="spacingAndGlyphs">Field</text>
<line x1="167.8" y1="225.2" x2="193" y2="225.2" stroke="#0d0887" stroke-width="1.85" stroke-dasharray="1.85 2.13"/>
<text x="202.29" y="228.80" font-family="Liberation Sans, sans-serif" font-size="12.3" textLength="53.73" lengthAdjust="spacingAndGlyphs">Field res.</text>
<line x1="82" y1="242.8" x2="107.7" y2="242.8" stroke="#be3884" stroke-width="1.5"/>
<text x="117.23" y="246.40" font-family="Liberation Sans, sans-serif" font-size="12.3" textLength="22.74" lengthAdjust="spacingAndGlyphs">YSC</text>
<line x1="167.8" y1="242.8" x2="193" y2="242.8" stroke="#be3884" stroke-width="1.85" stroke-dasharray="1.85 2.13"/>
<text x="203.03" y="246.40" font-family="Liberation Sans, sans-serif" font-size="12.3" textLength="48.39" lengthAdjust="spacingAndGlyphs">YSC res.</text>
<line x1="82" y1="260.35" x2="107.7" y2="260.35" stroke="#fdb62b" stroke-width="1.5"/>
<text x="116.99" y="263.95" font-family="Liberation Sans, sans-serif" font-size="12.3" textLength="24.48" lengthAdjust="spacingAndGlyphs">NSC</text>
<line x1="167.8" y1="260.35" x2="193" y2="260.35" stroke="#fdb62b" stroke-width="1.85" stroke-dasharray="1.85 2.13"/>
<text x="202.29" y="263.95" font-family="Liberation Sans, sans-serif" font-size="12.3" textLength="50.43" lengthAdjust="spacingAndGlyphs">NSC res.</text>
<line x1="82" y1="278.1" x2="107.7" y2="278.1" stroke="#ec6b4a" stroke-width="1.5"/>
<text x="117.38" y="281.70" font-family="Liberation Sans, sans-serif" font-size="12.3" textLength="16.49" lengthAdjust="spacingAndGlyphs">GC</text>
<line x1="167.8" y1="278.1" x2="193" y2="278.1" stroke="#ec6b4a" stroke-width="1.85" stroke-dasharray="1.85 2.13"/>
<text x="202.68" y="281.70" font-family="Liberation Sans, sans-serif" font-size="12.3" textLength="42.94" lengthAdjust="spacingAndGlyphs">GC res.</text>

</svg>
</body></html>
